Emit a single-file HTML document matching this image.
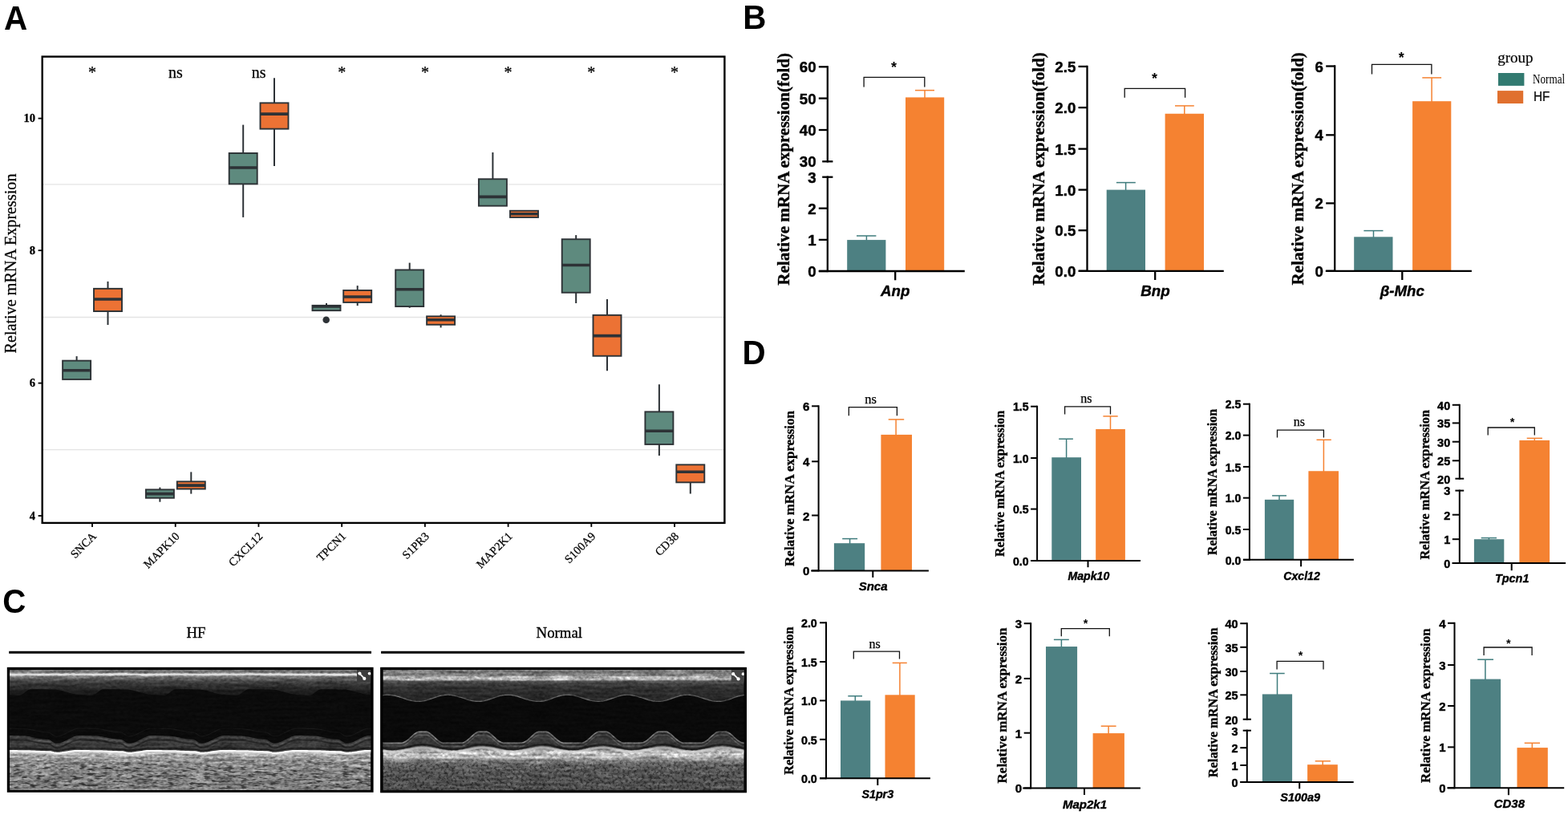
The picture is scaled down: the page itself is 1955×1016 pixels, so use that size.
<!DOCTYPE html>
<html lang="en">
<head>
<meta charset="utf-8">
<title>Figure: mRNA expression validation</title>
<style>
html,body{margin:0;padding:0;background:#fff;}
body{width:1955px;height:1016px;overflow:hidden;}
svg{display:block;}
text{white-space:pre;}
</style>
</head>
<body>
<svg width="1955" height="1016" viewBox="0 0 1955 1016">
<rect width="1955" height="1016" fill="#fff"/>
<g id="panelA">
<text font-family='"Liberation Sans", sans-serif' font-size="42.6" font-weight="bold" transform="translate(5 36.9) scale(0.95 1)">A</text>
<line x1="52.7" y1="229.9" x2="903.4" y2="229.9" stroke="#e4e4e4" stroke-width="1.4"/>
<line x1="52.7" y1="395.5" x2="903.4" y2="395.5" stroke="#e4e4e4" stroke-width="1.4"/>
<line x1="52.7" y1="560.6" x2="903.4" y2="560.6" stroke="#e4e4e4" stroke-width="1.4"/>
<line x1="47.6" y1="147.6" x2="52.7" y2="147.6" stroke="#000" stroke-width="1.8"/>
<text font-family='"Liberation Serif", serif' font-size="14.6" font-weight="bold" text-anchor="end" stroke="#000" stroke-width="0.3" x="44" y="152.4">10</text>
<line x1="47.6" y1="312.2" x2="52.7" y2="312.2" stroke="#000" stroke-width="1.8"/>
<text font-family='"Liberation Serif", serif' font-size="14.6" font-weight="bold" text-anchor="end" stroke="#000" stroke-width="0.3" x="44" y="317">8</text>
<line x1="47.6" y1="477.6" x2="52.7" y2="477.6" stroke="#000" stroke-width="1.8"/>
<text font-family='"Liberation Serif", serif' font-size="14.6" font-weight="bold" text-anchor="end" stroke="#000" stroke-width="0.3" x="44" y="482.4">6</text>
<line x1="47.6" y1="643" x2="52.7" y2="643" stroke="#000" stroke-width="1.8"/>
<text font-family='"Liberation Serif", serif' font-size="14.6" font-weight="bold" text-anchor="end" stroke="#000" stroke-width="0.3" x="44" y="647.8">4</text>
<text font-family='"Liberation Serif", serif' font-size="20.2" text-anchor="middle" textLength="224" lengthAdjust="spacingAndGlyphs" stroke="#000" stroke-width="0.25" transform="translate(20.3 328.5) rotate(-90)">Relative mRNA Expression</text>
<line x1="95.6" y1="444.1" x2="95.6" y2="449.7" stroke="#2d3236" stroke-width="2"/>
<rect x="78.1" y="449.65" width="35" height="23.3" fill="#5e8a7e" stroke="#2d3236" stroke-width="1.9"/>
<line x1="78.1" y1="461.7" x2="113.1" y2="461.7" stroke="#2d3236" stroke-width="3.6"/>
<line x1="134.5" y1="350.9" x2="134.5" y2="359.9" stroke="#2d3236" stroke-width="2"/>
<line x1="134.5" y1="388" x2="134.5" y2="405" stroke="#2d3236" stroke-width="2"/>
<rect x="117" y="359.85" width="35" height="28.2" fill="#ec7234" stroke="#2d3236" stroke-width="1.9"/>
<line x1="117" y1="373" x2="152" y2="373" stroke="#2d3236" stroke-width="3.6"/>
<line x1="199.4" y1="607.6" x2="199.4" y2="610.4" stroke="#2d3236" stroke-width="2"/>
<line x1="199.4" y1="620.7" x2="199.4" y2="625.7" stroke="#2d3236" stroke-width="2"/>
<rect x="181.9" y="610.35" width="35" height="10.4" fill="#5e8a7e" stroke="#2d3236" stroke-width="1.9"/>
<line x1="181.9" y1="615.6" x2="216.9" y2="615.6" stroke="#2d3236" stroke-width="3.6"/>
<line x1="238.3" y1="588.4" x2="238.3" y2="600.4" stroke="#2d3236" stroke-width="2"/>
<line x1="238.3" y1="609.5" x2="238.3" y2="615.6" stroke="#2d3236" stroke-width="2"/>
<rect x="220.8" y="600.35" width="35" height="9.2" fill="#ec7234" stroke="#2d3236" stroke-width="1.9"/>
<line x1="220.8" y1="605.1" x2="255.8" y2="605.1" stroke="#2d3236" stroke-width="3.6"/>
<line x1="303.2" y1="155.6" x2="303.2" y2="191" stroke="#2d3236" stroke-width="2"/>
<line x1="303.2" y1="229.3" x2="303.2" y2="270.9" stroke="#2d3236" stroke-width="2"/>
<rect x="285.7" y="190.95" width="35" height="38.4" fill="#5e8a7e" stroke="#2d3236" stroke-width="1.9"/>
<line x1="285.7" y1="209" x2="320.7" y2="209" stroke="#2d3236" stroke-width="3.6"/>
<line x1="342" y1="97.2" x2="342" y2="128.4" stroke="#2d3236" stroke-width="2"/>
<line x1="342" y1="160.6" x2="342" y2="206.9" stroke="#2d3236" stroke-width="2"/>
<rect x="324.5" y="128.35" width="35" height="32.3" fill="#ec7234" stroke="#2d3236" stroke-width="1.9"/>
<line x1="324.5" y1="142.1" x2="359.5" y2="142.1" stroke="#2d3236" stroke-width="3.6"/>
<line x1="407" y1="378" x2="407" y2="380.9" stroke="#2d3236" stroke-width="2"/>
<rect x="389.5" y="380.85" width="35" height="6.3" fill="#5e8a7e" stroke="#2d3236" stroke-width="1.9"/>
<line x1="389.5" y1="382" x2="424.5" y2="382" stroke="#2d3236" stroke-width="3.6"/>
<line x1="445.7" y1="356.1" x2="445.7" y2="362" stroke="#2d3236" stroke-width="2"/>
<line x1="445.7" y1="376.9" x2="445.7" y2="381.1" stroke="#2d3236" stroke-width="2"/>
<rect x="428.2" y="361.95" width="35" height="15" fill="#ec7234" stroke="#2d3236" stroke-width="1.9"/>
<line x1="428.2" y1="370" x2="463.2" y2="370" stroke="#2d3236" stroke-width="3.6"/>
<line x1="510.7" y1="327.6" x2="510.7" y2="336.5" stroke="#2d3236" stroke-width="2"/>
<line x1="510.7" y1="382" x2="510.7" y2="383.8" stroke="#2d3236" stroke-width="2"/>
<rect x="493.2" y="336.45" width="35" height="45.6" fill="#5e8a7e" stroke="#2d3236" stroke-width="1.9"/>
<line x1="493.2" y1="360.8" x2="528.2" y2="360.8" stroke="#2d3236" stroke-width="3.6"/>
<line x1="549.6" y1="392.2" x2="549.6" y2="394.4" stroke="#2d3236" stroke-width="2"/>
<line x1="549.6" y1="404.7" x2="549.6" y2="408.4" stroke="#2d3236" stroke-width="2"/>
<rect x="532.1" y="394.35" width="35" height="10.4" fill="#ec7234" stroke="#2d3236" stroke-width="1.9"/>
<line x1="532.1" y1="398.8" x2="567.1" y2="398.8" stroke="#2d3236" stroke-width="3.6"/>
<line x1="614.4" y1="190" x2="614.4" y2="223.3" stroke="#2d3236" stroke-width="2"/>
<rect x="596.9" y="223.25" width="35" height="33.4" fill="#5e8a7e" stroke="#2d3236" stroke-width="1.9"/>
<line x1="596.9" y1="245.4" x2="631.9" y2="245.4" stroke="#2d3236" stroke-width="3.6"/>
<rect x="636" y="262.75" width="35" height="8.2" fill="#ec7234" stroke="#2d3236" stroke-width="1.9"/>
<line x1="636" y1="266.8" x2="671" y2="266.8" stroke="#2d3236" stroke-width="3.6"/>
<line x1="718.2" y1="293.1" x2="718.2" y2="298.3" stroke="#2d3236" stroke-width="2"/>
<line x1="718.2" y1="364.7" x2="718.2" y2="378" stroke="#2d3236" stroke-width="2"/>
<rect x="700.7" y="298.25" width="35" height="66.5" fill="#5e8a7e" stroke="#2d3236" stroke-width="1.9"/>
<line x1="700.7" y1="330.5" x2="735.7" y2="330.5" stroke="#2d3236" stroke-width="3.6"/>
<line x1="757" y1="373.1" x2="757" y2="392.9" stroke="#2d3236" stroke-width="2"/>
<line x1="757" y1="443.7" x2="757" y2="462.3" stroke="#2d3236" stroke-width="2"/>
<rect x="739.5" y="392.85" width="35" height="50.9" fill="#ec7234" stroke="#2d3236" stroke-width="1.9"/>
<line x1="739.5" y1="418.6" x2="774.5" y2="418.6" stroke="#2d3236" stroke-width="3.6"/>
<line x1="821.9" y1="479.2" x2="821.9" y2="513.4" stroke="#2d3236" stroke-width="2"/>
<line x1="821.9" y1="553.9" x2="821.9" y2="568" stroke="#2d3236" stroke-width="2"/>
<rect x="804.4" y="513.35" width="35" height="40.6" fill="#5e8a7e" stroke="#2d3236" stroke-width="1.9"/>
<line x1="804.4" y1="537.3" x2="839.4" y2="537.3" stroke="#2d3236" stroke-width="3.6"/>
<line x1="860.8" y1="601.3" x2="860.8" y2="615.5" stroke="#2d3236" stroke-width="2"/>
<rect x="843.3" y="579.35" width="35" height="22" fill="#ec7234" stroke="#2d3236" stroke-width="1.9"/>
<line x1="843.3" y1="588.2" x2="878.3" y2="588.2" stroke="#2d3236" stroke-width="3.6"/>
<circle cx="406.7" cy="398.8" r="4.3" fill="#2d3236"/>
<text font-family='"Liberation Serif", serif' font-size="20" text-anchor="middle" stroke="#000" stroke-width="0.25" x="115" y="96.6">*</text>
<text font-family='"Liberation Serif", serif' font-size="20" text-anchor="middle" stroke="#000" stroke-width="0.25" x="218.92" y="96.9">ns</text>
<text font-family='"Liberation Serif", serif' font-size="20" text-anchor="middle" stroke="#000" stroke-width="0.25" x="322.64" y="96.9">ns</text>
<text font-family='"Liberation Serif", serif' font-size="20" text-anchor="middle" stroke="#000" stroke-width="0.25" x="426.16" y="96.6">*</text>
<text font-family='"Liberation Serif", serif' font-size="20" text-anchor="middle" stroke="#000" stroke-width="0.25" x="529.88" y="96.6">*</text>
<text font-family='"Liberation Serif", serif' font-size="20" text-anchor="middle" stroke="#000" stroke-width="0.25" x="633.6" y="96.6">*</text>
<text font-family='"Liberation Serif", serif' font-size="20" text-anchor="middle" stroke="#000" stroke-width="0.25" x="737.32" y="96.6">*</text>
<text font-family='"Liberation Serif", serif' font-size="20" text-anchor="middle" stroke="#000" stroke-width="0.25" x="841.04" y="96.6">*</text>
<rect x="52.7" y="70.6" width="850.7" height="581.3" fill="none" stroke="#000" stroke-width="2.4"/>
<line x1="115" y1="651.9" x2="115" y2="656.9" stroke="#000" stroke-width="1.8"/>
<text font-family='"Liberation Serif", serif' font-size="14.5" text-anchor="end" stroke="#000" stroke-width="0.25" transform="translate(121 669.3) rotate(-45)">SNCA</text>
<line x1="218.72" y1="651.9" x2="218.72" y2="656.9" stroke="#000" stroke-width="1.8"/>
<text font-family='"Liberation Serif", serif' font-size="14.5" text-anchor="end" stroke="#000" stroke-width="0.25" transform="translate(224.72 669.3) rotate(-45)">MAPK10</text>
<line x1="322.44" y1="651.9" x2="322.44" y2="656.9" stroke="#000" stroke-width="1.8"/>
<text font-family='"Liberation Serif", serif' font-size="14.5" text-anchor="end" stroke="#000" stroke-width="0.25" transform="translate(328.44 669.3) rotate(-45)">CXCL12</text>
<line x1="426.16" y1="651.9" x2="426.16" y2="656.9" stroke="#000" stroke-width="1.8"/>
<text font-family='"Liberation Serif", serif' font-size="14.5" text-anchor="end" stroke="#000" stroke-width="0.25" transform="translate(432.16 669.3) rotate(-45)">TPCN1</text>
<line x1="529.88" y1="651.9" x2="529.88" y2="656.9" stroke="#000" stroke-width="1.8"/>
<text font-family='"Liberation Serif", serif' font-size="14.5" text-anchor="end" stroke="#000" stroke-width="0.25" transform="translate(535.88 669.3) rotate(-45)">S1PR3</text>
<line x1="633.6" y1="651.9" x2="633.6" y2="656.9" stroke="#000" stroke-width="1.8"/>
<text font-family='"Liberation Serif", serif' font-size="14.5" text-anchor="end" stroke="#000" stroke-width="0.25" transform="translate(639.6 669.3) rotate(-45)">MAP2K1</text>
<line x1="737.32" y1="651.9" x2="737.32" y2="656.9" stroke="#000" stroke-width="1.8"/>
<text font-family='"Liberation Serif", serif' font-size="14.5" text-anchor="end" stroke="#000" stroke-width="0.25" transform="translate(743.32 669.3) rotate(-45)">S100A9</text>
<line x1="841.04" y1="651.9" x2="841.04" y2="656.9" stroke="#000" stroke-width="1.8"/>
<text font-family='"Liberation Serif", serif' font-size="14.5" text-anchor="end" stroke="#000" stroke-width="0.25" transform="translate(847.04 669.3) rotate(-45)">CD38</text>
</g>
<text font-family='"Liberation Sans", sans-serif' font-size="42" font-weight="bold" transform="translate(926.2 36.4) scale(0.96 1)">B</text>
<text font-family='"Liberation Sans", sans-serif' font-size="42" font-weight="bold" transform="translate(925.6 453.7) scale(0.96 1)">D</text>
<g id="chart-Anp">
<line x1="1080.4" y1="294" x2="1080.4" y2="300.1" stroke="#3f7c7d" stroke-width="1.5"/>
<line x1="1068" y1="294" x2="1092.4" y2="294" stroke="#3f7c7d" stroke-width="1.5"/>
<line x1="1153" y1="112.6" x2="1153" y2="122.4" stroke="#f58231" stroke-width="1.5"/>
<line x1="1141" y1="112.6" x2="1165" y2="112.6" stroke="#f58231" stroke-width="1.5"/>
<rect x="1056.2" y="299.1" width="48.2" height="38.9" fill="#4d8082"/>
<rect x="1129" y="121.4" width="48.2" height="216.6" fill="#f58231"/>
<line x1="1031.8" y1="82.15" x2="1031.8" y2="202.45" stroke="#000" stroke-width="2.3"/>
<line x1="1031.8" y1="219.55" x2="1031.8" y2="339.15" stroke="#000" stroke-width="2.3"/>
<line x1="1020.8" y1="83.3" x2="1031.8" y2="83.3" stroke="#000" stroke-width="2.3"/>
<text font-family='"Liberation Sans", sans-serif' font-size="18.68" font-weight="bold" text-anchor="end" stroke="#000" stroke-width="0.45" x="1017.6" y="90.34">60</text>
<line x1="1020.8" y1="122.6" x2="1031.8" y2="122.6" stroke="#000" stroke-width="2.3"/>
<text font-family='"Liberation Sans", sans-serif' font-size="18.68" font-weight="bold" text-anchor="end" stroke="#000" stroke-width="0.45" x="1017.6" y="129.64">50</text>
<line x1="1020.8" y1="162" x2="1031.8" y2="162" stroke="#000" stroke-width="2.3"/>
<text font-family='"Liberation Sans", sans-serif' font-size="18.68" font-weight="bold" text-anchor="end" stroke="#000" stroke-width="0.45" x="1017.6" y="169.04">40</text>
<line x1="1025.2" y1="201.3" x2="1038.4" y2="201.3" stroke="#000" stroke-width="2.3"/>
<text font-family='"Liberation Sans", sans-serif' font-size="18.68" font-weight="bold" text-anchor="end" stroke="#000" stroke-width="0.45" x="1017.6" y="208.34">30</text>
<line x1="1025.2" y1="220.7" x2="1038.4" y2="220.7" stroke="#000" stroke-width="2.3"/>
<text font-family='"Liberation Sans", sans-serif' font-size="18.68" font-weight="bold" text-anchor="end" stroke="#000" stroke-width="0.45" x="1017.6" y="227.74">3</text>
<line x1="1020.8" y1="259.7" x2="1031.8" y2="259.7" stroke="#000" stroke-width="2.3"/>
<text font-family='"Liberation Sans", sans-serif' font-size="18.68" font-weight="bold" text-anchor="end" stroke="#000" stroke-width="0.45" x="1017.6" y="266.74">2</text>
<line x1="1020.8" y1="298.9" x2="1031.8" y2="298.9" stroke="#000" stroke-width="2.3"/>
<text font-family='"Liberation Sans", sans-serif' font-size="18.68" font-weight="bold" text-anchor="end" stroke="#000" stroke-width="0.45" x="1017.6" y="305.94">1</text>
<line x1="1020.8" y1="338" x2="1031.8" y2="338" stroke="#000" stroke-width="2.3"/>
<text font-family='"Liberation Sans", sans-serif' font-size="18.68" font-weight="bold" text-anchor="end" stroke="#000" stroke-width="0.45" x="1017.6" y="345.04">0</text>
<line x1="1020.8" y1="338" x2="1202.8" y2="338" stroke="#000" stroke-width="2.3"/>
<line x1="1116.2" y1="338" x2="1116.2" y2="349.3" stroke="#000" stroke-width="2.3"/>
<text font-family='"Liberation Sans", sans-serif' font-size="18.68" font-weight="bold" font-style="italic" text-anchor="middle" stroke="#000" stroke-width="0.4" x="1116.2" y="369.3">Anp</text>
<path d="M1077.1 108.6V96.4H1152.8V108.6" fill="none" stroke="#111" stroke-width="1.3"/>
<text font-family='"Liberation Sans", sans-serif' font-size="18" font-weight="bold" text-anchor="middle" x="1114.4" y="90.4">*</text>
<text font-family='"Liberation Serif", serif' font-size="20.98" font-weight="bold" text-anchor="middle" textLength="289.7" lengthAdjust="spacingAndGlyphs" stroke="#000" stroke-width="0.35" transform="translate(983.7 210.85) rotate(-90)">Relative mRNA expression(fold)</text>
</g>
<g id="chart-Bnp">
<line x1="1403.6" y1="227.6" x2="1403.6" y2="237.6" stroke="#3f7c7d" stroke-width="1.5"/>
<line x1="1391.9" y1="227.6" x2="1415.8" y2="227.6" stroke="#3f7c7d" stroke-width="1.5"/>
<line x1="1476.8" y1="131.9" x2="1476.8" y2="142.75" stroke="#f58231" stroke-width="1.5"/>
<line x1="1465" y1="131.9" x2="1488.8" y2="131.9" stroke="#f58231" stroke-width="1.5"/>
<rect x="1379.7" y="236.6" width="48.3" height="101.2" fill="#4d8082"/>
<rect x="1452.6" y="141.75" width="48.4" height="196.05" fill="#f58231"/>
<line x1="1355.5" y1="81.75" x2="1355.5" y2="338.95" stroke="#000" stroke-width="2.3"/>
<line x1="1344.5" y1="82.9" x2="1355.5" y2="82.9" stroke="#000" stroke-width="2.3"/>
<text font-family='"Liberation Sans", sans-serif' font-size="18.74" font-weight="bold" text-anchor="end" stroke="#000" stroke-width="0.45" x="1341.4" y="89.96">2.5</text>
<line x1="1344.5" y1="134.1" x2="1355.5" y2="134.1" stroke="#000" stroke-width="2.3"/>
<text font-family='"Liberation Sans", sans-serif' font-size="18.74" font-weight="bold" text-anchor="end" stroke="#000" stroke-width="0.45" x="1341.4" y="141.16">2.0</text>
<line x1="1344.5" y1="185.6" x2="1355.5" y2="185.6" stroke="#000" stroke-width="2.3"/>
<text font-family='"Liberation Sans", sans-serif' font-size="18.74" font-weight="bold" text-anchor="end" stroke="#000" stroke-width="0.45" x="1341.4" y="192.66">1.5</text>
<line x1="1344.5" y1="236.6" x2="1355.5" y2="236.6" stroke="#000" stroke-width="2.3"/>
<text font-family='"Liberation Sans", sans-serif' font-size="18.74" font-weight="bold" text-anchor="end" stroke="#000" stroke-width="0.45" x="1341.4" y="243.66">1.0</text>
<line x1="1344.5" y1="287.2" x2="1355.5" y2="287.2" stroke="#000" stroke-width="2.3"/>
<text font-family='"Liberation Sans", sans-serif' font-size="18.74" font-weight="bold" text-anchor="end" stroke="#000" stroke-width="0.45" x="1341.4" y="294.26">0.5</text>
<line x1="1344.5" y1="337.8" x2="1355.5" y2="337.8" stroke="#000" stroke-width="2.3"/>
<text font-family='"Liberation Sans", sans-serif' font-size="18.74" font-weight="bold" text-anchor="end" stroke="#000" stroke-width="0.45" x="1341.4" y="344.86">0.0</text>
<line x1="1344.9" y1="337.8" x2="1525.8" y2="337.8" stroke="#000" stroke-width="2.3"/>
<line x1="1440.2" y1="337.8" x2="1440.2" y2="349" stroke="#000" stroke-width="2.3"/>
<text font-family='"Liberation Sans", sans-serif' font-size="18.74" font-weight="bold" font-style="italic" text-anchor="middle" stroke="#000" stroke-width="0.4" x="1440.4" y="369.1">Bnp</text>
<path d="M1402.2 121.7V110.3H1477.6V121.7" fill="none" stroke="#111" stroke-width="1.3"/>
<text font-family='"Liberation Sans", sans-serif' font-size="18" font-weight="bold" text-anchor="middle" x="1439.6" y="104.3">*</text>
<text font-family='"Liberation Serif", serif' font-size="21.06" font-weight="bold" text-anchor="middle" textLength="290.7" lengthAdjust="spacingAndGlyphs" stroke="#000" stroke-width="0.35" transform="translate(1301.8 210.45) rotate(-90)">Relative mRNA expression(fold)</text>
</g>
<g id="chart-bMhc">
<line x1="1712.5" y1="287.6" x2="1712.5" y2="296.3" stroke="#3f7c7d" stroke-width="1.5"/>
<line x1="1700.4" y1="287.6" x2="1724.5" y2="287.6" stroke="#3f7c7d" stroke-width="1.5"/>
<line x1="1785.1" y1="96.9" x2="1785.1" y2="127.2" stroke="#f58231" stroke-width="1.5"/>
<line x1="1773.3" y1="96.9" x2="1797.1" y2="96.9" stroke="#f58231" stroke-width="1.5"/>
<rect x="1688.2" y="295.3" width="48.3" height="42.5" fill="#4d8082"/>
<rect x="1761.1" y="126.2" width="48.2" height="211.6" fill="#f58231"/>
<line x1="1664.2" y1="81.35" x2="1664.2" y2="338.95" stroke="#000" stroke-width="2.3"/>
<line x1="1653.2" y1="82.5" x2="1664.2" y2="82.5" stroke="#000" stroke-width="2.3"/>
<text font-family='"Liberation Sans", sans-serif' font-size="18.71" font-weight="bold" text-anchor="end" stroke="#000" stroke-width="0.45" x="1649.9" y="89.55">6</text>
<line x1="1653.2" y1="168.3" x2="1664.2" y2="168.3" stroke="#000" stroke-width="2.3"/>
<text font-family='"Liberation Sans", sans-serif' font-size="18.71" font-weight="bold" text-anchor="end" stroke="#000" stroke-width="0.45" x="1649.9" y="175.35">4</text>
<line x1="1653.2" y1="253.4" x2="1664.2" y2="253.4" stroke="#000" stroke-width="2.3"/>
<text font-family='"Liberation Sans", sans-serif' font-size="18.71" font-weight="bold" text-anchor="end" stroke="#000" stroke-width="0.45" x="1649.9" y="260.45">2</text>
<line x1="1653.2" y1="337.8" x2="1664.2" y2="337.8" stroke="#000" stroke-width="2.3"/>
<text font-family='"Liberation Sans", sans-serif' font-size="18.71" font-weight="bold" text-anchor="end" stroke="#000" stroke-width="0.45" x="1649.9" y="344.85">0</text>
<line x1="1652.8" y1="337.8" x2="1834.9" y2="337.8" stroke="#000" stroke-width="2.3"/>
<line x1="1748.3" y1="337.8" x2="1748.3" y2="349" stroke="#000" stroke-width="2.3"/>
<text font-family='"Liberation Sans", sans-serif' font-size="18.71" font-weight="bold" font-style="italic" text-anchor="middle" stroke="#000" stroke-width="0.4" x="1748.3" y="369.1">β-Mhc</text>
<path d="M1710.5 92.5V80.3H1784.9V92.5" fill="none" stroke="#111" stroke-width="1.3"/>
<text font-family='"Liberation Sans", sans-serif' font-size="18" font-weight="bold" text-anchor="middle" x="1747.3" y="77.7">*</text>
<text font-family='"Liberation Serif", serif' font-size="21.03" font-weight="bold" text-anchor="middle" textLength="290.3" lengthAdjust="spacingAndGlyphs" stroke="#000" stroke-width="0.35" transform="translate(1624.9 210.25) rotate(-90)">Relative mRNA expression(fold)</text>
</g>
<g id="chart-Snca">
<line x1="1059.6" y1="671.6" x2="1059.6" y2="678.2" stroke="#3f7c7d" stroke-width="1.5"/>
<line x1="1050.2" y1="671.6" x2="1069.1" y2="671.6" stroke="#3f7c7d" stroke-width="1.5"/>
<line x1="1117.1" y1="522.9" x2="1117.1" y2="542.9" stroke="#f58231" stroke-width="1.5"/>
<line x1="1107.7" y1="522.9" x2="1127.2" y2="522.9" stroke="#f58231" stroke-width="1.5"/>
<rect x="1039.9" y="677.2" width="38.3" height="34.2" fill="#4d8082"/>
<rect x="1098.4" y="541.9" width="38.6" height="169.5" fill="#f58231"/>
<line x1="1020.6" y1="505.3" x2="1020.6" y2="712.4" stroke="#000" stroke-width="2"/>
<line x1="1012.1" y1="506.3" x2="1020.6" y2="506.3" stroke="#000" stroke-width="2"/>
<text font-family='"Liberation Sans", sans-serif' font-size="15.03" font-weight="bold" text-anchor="end" stroke="#000" stroke-width="0.45" x="1009.4" y="512.36">6</text>
<line x1="1012.1" y1="575.3" x2="1020.6" y2="575.3" stroke="#000" stroke-width="2"/>
<text font-family='"Liberation Sans", sans-serif' font-size="15.03" font-weight="bold" text-anchor="end" stroke="#000" stroke-width="0.45" x="1009.4" y="581.36">4</text>
<line x1="1012.1" y1="642.5" x2="1020.6" y2="642.5" stroke="#000" stroke-width="2"/>
<text font-family='"Liberation Sans", sans-serif' font-size="15.03" font-weight="bold" text-anchor="end" stroke="#000" stroke-width="0.45" x="1009.4" y="648.56">2</text>
<line x1="1012.1" y1="711.4" x2="1020.6" y2="711.4" stroke="#000" stroke-width="2"/>
<text font-family='"Liberation Sans", sans-serif' font-size="15.03" font-weight="bold" text-anchor="end" stroke="#000" stroke-width="0.45" x="1009.4" y="717.46">0</text>
<line x1="1011.2" y1="711.4" x2="1157.9" y2="711.4" stroke="#000" stroke-width="2"/>
<line x1="1088.3" y1="711.4" x2="1088.3" y2="719.9" stroke="#000" stroke-width="2"/>
<text font-family='"Liberation Sans", sans-serif' font-size="15.03" font-weight="bold" font-style="italic" text-anchor="middle" stroke="#000" stroke-width="0.4" x="1088.6" y="736.2">Snca</text>
<path d="M1058.3 518.3V507.7H1118.4V518.3" fill="none" stroke="#111" stroke-width="1.3"/>
<text font-family='"Liberation Serif", serif' font-size="16.5" text-anchor="middle" stroke="#000" stroke-width="0.25" x="1085.6" y="502.9">ns</text>
<text font-family='"Liberation Serif", serif' font-size="16.88" font-weight="bold" text-anchor="middle" textLength="193.9" lengthAdjust="spacingAndGlyphs" stroke="#000" stroke-width="0.35" transform="translate(990 608.95) rotate(-90)">Relative mRNA expression</text>
</g>
<g id="chart-Mapk10">
<line x1="1329.6" y1="547.2" x2="1329.6" y2="571.2" stroke="#3f7c7d" stroke-width="1.5"/>
<line x1="1320.2" y1="547.2" x2="1337.9" y2="547.2" stroke="#3f7c7d" stroke-width="1.5"/>
<line x1="1384.5" y1="518.9" x2="1384.5" y2="536" stroke="#f58231" stroke-width="1.5"/>
<line x1="1375.4" y1="518.9" x2="1393.7" y2="518.9" stroke="#f58231" stroke-width="1.5"/>
<rect x="1311.3" y="570.2" width="36.7" height="128.9" fill="#4d8082"/>
<rect x="1366.2" y="535" width="36.7" height="164.1" fill="#f58231"/>
<line x1="1293.1" y1="505.7" x2="1293.1" y2="700" stroke="#000" stroke-width="2"/>
<line x1="1285.1" y1="506.7" x2="1293.1" y2="506.7" stroke="#000" stroke-width="2"/>
<text font-family='"Liberation Sans", sans-serif' font-size="14.09" font-weight="bold" text-anchor="end" stroke="#000" stroke-width="0.45" x="1282.5" y="512.43">1.5</text>
<line x1="1285.1" y1="571" x2="1293.1" y2="571" stroke="#000" stroke-width="2"/>
<text font-family='"Liberation Sans", sans-serif' font-size="14.09" font-weight="bold" text-anchor="end" stroke="#000" stroke-width="0.45" x="1282.5" y="576.73">1.0</text>
<line x1="1285.1" y1="634.6" x2="1293.1" y2="634.6" stroke="#000" stroke-width="2"/>
<text font-family='"Liberation Sans", sans-serif' font-size="14.09" font-weight="bold" text-anchor="end" stroke="#000" stroke-width="0.45" x="1282.5" y="640.33">0.5</text>
<line x1="1285.1" y1="699" x2="1293.1" y2="699" stroke="#000" stroke-width="2"/>
<text font-family='"Liberation Sans", sans-serif' font-size="14.09" font-weight="bold" text-anchor="end" stroke="#000" stroke-width="0.45" x="1282.5" y="704.73">0.0</text>
<line x1="1285.3" y1="699.1" x2="1422" y2="699.1" stroke="#000" stroke-width="2"/>
<line x1="1356.5" y1="699.1" x2="1356.5" y2="707.2" stroke="#000" stroke-width="2"/>
<text font-family='"Liberation Sans", sans-serif' font-size="14.09" font-weight="bold" font-style="italic" text-anchor="middle" stroke="#000" stroke-width="0.4" x="1357.4" y="722.6">Mapk10</text>
<path d="M1327.6 516.4V506.8H1384.5V516.4" fill="none" stroke="#111" stroke-width="1.3"/>
<text font-family='"Liberation Serif", serif' font-size="16" text-anchor="middle" stroke="#000" stroke-width="0.25" x="1354.4" y="501.9">ns</text>
<text font-family='"Liberation Serif", serif' font-size="15.83" font-weight="bold" text-anchor="middle" textLength="181.9" lengthAdjust="spacingAndGlyphs" stroke="#000" stroke-width="0.35" transform="translate(1252.1 602.95) rotate(-90)">Relative mRNA expression</text>
</g>
<g id="chart-Cxcl12">
<line x1="1595" y1="617.9" x2="1595" y2="623.85" stroke="#3f7c7d" stroke-width="1.5"/>
<line x1="1586.1" y1="617.9" x2="1604" y2="617.9" stroke="#3f7c7d" stroke-width="1.5"/>
<line x1="1650.4" y1="548.3" x2="1650.4" y2="588.25" stroke="#f58231" stroke-width="1.5"/>
<line x1="1641.5" y1="548.3" x2="1659.8" y2="548.3" stroke="#f58231" stroke-width="1.5"/>
<rect x="1576.9" y="622.85" width="36.3" height="74.95" fill="#4d8082"/>
<rect x="1631.4" y="587.25" width="37.6" height="110.55" fill="#f58231"/>
<line x1="1557.9" y1="502.7" x2="1557.9" y2="698.8" stroke="#000" stroke-width="2"/>
<line x1="1549.9" y1="503.7" x2="1557.9" y2="503.7" stroke="#000" stroke-width="2"/>
<text font-family='"Liberation Sans", sans-serif' font-size="14.12" font-weight="bold" text-anchor="end" stroke="#000" stroke-width="0.45" x="1547.3" y="509.44">2.5</text>
<line x1="1549.9" y1="542.6" x2="1557.9" y2="542.6" stroke="#000" stroke-width="2"/>
<text font-family='"Liberation Sans", sans-serif' font-size="14.12" font-weight="bold" text-anchor="end" stroke="#000" stroke-width="0.45" x="1547.3" y="548.34">2.0</text>
<line x1="1549.9" y1="581.9" x2="1557.9" y2="581.9" stroke="#000" stroke-width="2"/>
<text font-family='"Liberation Sans", sans-serif' font-size="14.12" font-weight="bold" text-anchor="end" stroke="#000" stroke-width="0.45" x="1547.3" y="587.64">1.5</text>
<line x1="1549.9" y1="620.7" x2="1557.9" y2="620.7" stroke="#000" stroke-width="2"/>
<text font-family='"Liberation Sans", sans-serif' font-size="14.12" font-weight="bold" text-anchor="end" stroke="#000" stroke-width="0.45" x="1547.3" y="626.44">1.0</text>
<line x1="1549.9" y1="660" x2="1557.9" y2="660" stroke="#000" stroke-width="2"/>
<text font-family='"Liberation Sans", sans-serif' font-size="14.12" font-weight="bold" text-anchor="end" stroke="#000" stroke-width="0.45" x="1547.3" y="665.74">0.5</text>
<line x1="1549.9" y1="697.8" x2="1557.9" y2="697.8" stroke="#000" stroke-width="2"/>
<text font-family='"Liberation Sans", sans-serif' font-size="14.12" font-weight="bold" text-anchor="end" stroke="#000" stroke-width="0.45" x="1547.3" y="703.54">0.0</text>
<line x1="1550" y1="697.8" x2="1687.9" y2="697.8" stroke="#000" stroke-width="2"/>
<line x1="1622.1" y1="697.8" x2="1622.1" y2="706.3" stroke="#000" stroke-width="2"/>
<text font-family='"Liberation Sans", sans-serif' font-size="14.12" font-weight="bold" font-style="italic" text-anchor="middle" stroke="#000" stroke-width="0.4" x="1623" y="722.6">Cxcl12</text>
<path d="M1592.5 545.6V536.2H1650.4V545.6" fill="none" stroke="#111" stroke-width="1.3"/>
<text font-family='"Liberation Serif", serif' font-size="16" text-anchor="middle" stroke="#000" stroke-width="0.25" x="1619.8" y="531.1">ns</text>
<text font-family='"Liberation Serif", serif' font-size="15.86" font-weight="bold" text-anchor="middle" textLength="182.2" lengthAdjust="spacingAndGlyphs" stroke="#000" stroke-width="0.35" transform="translate(1516.8 601) rotate(-90)">Relative mRNA expression</text>
</g>
<g id="chart-Tpcn1">
<line x1="1856.4" y1="670.6" x2="1856.4" y2="673.2" stroke="#3f7c7d" stroke-width="1.5"/>
<line x1="1846.7" y1="670.6" x2="1866" y2="670.6" stroke="#3f7c7d" stroke-width="1.5"/>
<line x1="1913.3" y1="546.35" x2="1913.3" y2="549.9" stroke="#f58231" stroke-width="1.5"/>
<line x1="1903.7" y1="546.35" x2="1922.9" y2="546.35" stroke="#f58231" stroke-width="1.5"/>
<rect x="1837.9" y="672.2" width="37.4" height="29.8" fill="#4d8082"/>
<rect x="1894.4" y="548.9" width="37.7" height="153.1" fill="#f58231"/>
<line x1="1819.8" y1="503.8" x2="1819.8" y2="597.7" stroke="#000" stroke-width="2"/>
<line x1="1819.8" y1="610.6" x2="1819.8" y2="703" stroke="#000" stroke-width="2"/>
<line x1="1810.8" y1="504.8" x2="1819.8" y2="504.8" stroke="#000" stroke-width="2"/>
<text font-family='"Liberation Sans", sans-serif' font-size="14.46" font-weight="bold" text-anchor="end" stroke="#000" stroke-width="0.45" x="1808.2" y="510.66">40</text>
<line x1="1810.8" y1="527.4" x2="1819.8" y2="527.4" stroke="#000" stroke-width="2"/>
<text font-family='"Liberation Sans", sans-serif' font-size="14.46" font-weight="bold" text-anchor="end" stroke="#000" stroke-width="0.45" x="1808.2" y="533.26">35</text>
<line x1="1810.8" y1="550.7" x2="1819.8" y2="550.7" stroke="#000" stroke-width="2"/>
<text font-family='"Liberation Sans", sans-serif' font-size="14.46" font-weight="bold" text-anchor="end" stroke="#000" stroke-width="0.45" x="1808.2" y="556.56">30</text>
<line x1="1810.8" y1="574.3" x2="1819.8" y2="574.3" stroke="#000" stroke-width="2"/>
<text font-family='"Liberation Sans", sans-serif' font-size="14.46" font-weight="bold" text-anchor="end" stroke="#000" stroke-width="0.45" x="1808.2" y="580.16">25</text>
<line x1="1814.4" y1="596.7" x2="1825.2" y2="596.7" stroke="#000" stroke-width="2"/>
<text font-family='"Liberation Sans", sans-serif' font-size="14.46" font-weight="bold" text-anchor="end" stroke="#000" stroke-width="0.45" x="1808.2" y="602.56">20</text>
<line x1="1814.4" y1="611.6" x2="1825.2" y2="611.6" stroke="#000" stroke-width="2"/>
<text font-family='"Liberation Sans", sans-serif' font-size="14.46" font-weight="bold" text-anchor="end" stroke="#000" stroke-width="0.45" x="1808.2" y="617.46">3</text>
<line x1="1810.8" y1="641.7" x2="1819.8" y2="641.7" stroke="#000" stroke-width="2"/>
<text font-family='"Liberation Sans", sans-serif' font-size="14.46" font-weight="bold" text-anchor="end" stroke="#000" stroke-width="0.45" x="1808.2" y="647.56">2</text>
<line x1="1810.8" y1="672.2" x2="1819.8" y2="672.2" stroke="#000" stroke-width="2"/>
<text font-family='"Liberation Sans", sans-serif' font-size="14.46" font-weight="bold" text-anchor="end" stroke="#000" stroke-width="0.45" x="1808.2" y="678.06">1</text>
<line x1="1810.8" y1="702" x2="1819.8" y2="702" stroke="#000" stroke-width="2"/>
<text font-family='"Liberation Sans", sans-serif' font-size="14.46" font-weight="bold" text-anchor="end" stroke="#000" stroke-width="0.45" x="1808.2" y="707.86">0</text>
<line x1="1810.6" y1="702" x2="1952.1" y2="702" stroke="#000" stroke-width="2"/>
<line x1="1884.7" y1="702" x2="1884.7" y2="711.2" stroke="#000" stroke-width="2"/>
<text font-family='"Liberation Sans", sans-serif' font-size="14.46" font-weight="bold" font-style="italic" text-anchor="middle" stroke="#000" stroke-width="0.4" x="1885.2" y="726.4">Tpcn1</text>
<path d="M1855.2 542.5V533H1913.3V542.5" fill="none" stroke="#111" stroke-width="1.3"/>
<text font-family='"Liberation Sans", sans-serif' font-size="14.5" font-weight="bold" text-anchor="middle" x="1885.5" y="531.1">*</text>
<text font-family='"Liberation Serif", serif' font-size="16.25" font-weight="bold" text-anchor="middle" textLength="186.6" lengthAdjust="spacingAndGlyphs" stroke="#000" stroke-width="0.35" transform="translate(1781.8 604.2) rotate(-90)">Relative mRNA expression</text>
</g>
<g id="chart-S1pr3">
<line x1="1066.3" y1="867.7" x2="1066.3" y2="874.4" stroke="#3f7c7d" stroke-width="1.5"/>
<line x1="1057.3" y1="867.7" x2="1075" y2="867.7" stroke="#3f7c7d" stroke-width="1.5"/>
<line x1="1121.9" y1="826.4" x2="1121.9" y2="867.3" stroke="#f58231" stroke-width="1.5"/>
<line x1="1112.7" y1="826.4" x2="1130.8" y2="826.4" stroke="#f58231" stroke-width="1.5"/>
<rect x="1048" y="873.4" width="37.2" height="96.9" fill="#4d8082"/>
<rect x="1103.5" y="866.3" width="37.2" height="104" fill="#f58231"/>
<line x1="1030" y1="775.3" x2="1030" y2="971.3" stroke="#000" stroke-width="2"/>
<line x1="1022" y1="776.3" x2="1030" y2="776.3" stroke="#000" stroke-width="2"/>
<text font-family='"Liberation Sans", sans-serif' font-size="14.26" font-weight="bold" text-anchor="end" stroke="#000" stroke-width="0.45" x="1018.8" y="782.09">2.0</text>
<line x1="1022" y1="825" x2="1030" y2="825" stroke="#000" stroke-width="2"/>
<text font-family='"Liberation Sans", sans-serif' font-size="14.26" font-weight="bold" text-anchor="end" stroke="#000" stroke-width="0.45" x="1018.8" y="830.79">1.5</text>
<line x1="1022" y1="873.4" x2="1030" y2="873.4" stroke="#000" stroke-width="2"/>
<text font-family='"Liberation Sans", sans-serif' font-size="14.26" font-weight="bold" text-anchor="end" stroke="#000" stroke-width="0.45" x="1018.8" y="879.19">1.0</text>
<line x1="1022" y1="921.8" x2="1030" y2="921.8" stroke="#000" stroke-width="2"/>
<text font-family='"Liberation Sans", sans-serif' font-size="14.26" font-weight="bold" text-anchor="end" stroke="#000" stroke-width="0.45" x="1018.8" y="927.59">0.5</text>
<line x1="1022" y1="970.3" x2="1030" y2="970.3" stroke="#000" stroke-width="2"/>
<text font-family='"Liberation Sans", sans-serif' font-size="14.26" font-weight="bold" text-anchor="end" stroke="#000" stroke-width="0.45" x="1018.8" y="976.09">0.0</text>
<line x1="1022.2" y1="970.3" x2="1159.9" y2="970.3" stroke="#000" stroke-width="2"/>
<line x1="1094.3" y1="970.3" x2="1094.3" y2="979" stroke="#000" stroke-width="2"/>
<text font-family='"Liberation Sans", sans-serif' font-size="14.26" font-weight="bold" font-style="italic" text-anchor="middle" stroke="#000" stroke-width="0.4" x="1094.3" y="994.7">S1pr3</text>
<path d="M1064.3 821.5V812.1H1121.5V821.5" fill="none" stroke="#111" stroke-width="1.3"/>
<text font-family='"Liberation Serif", serif' font-size="16" text-anchor="middle" stroke="#000" stroke-width="0.25" x="1090.5" y="807.8">ns</text>
<text font-family='"Liberation Serif", serif' font-size="16.03" font-weight="bold" text-anchor="middle" textLength="184.1" lengthAdjust="spacingAndGlyphs" stroke="#000" stroke-width="0.35" transform="translate(988.6 873.65) rotate(-90)">Relative mRNA expression</text>
</g>
<g id="chart-Map2k1">
<line x1="1323.4" y1="797.4" x2="1323.4" y2="807.05" stroke="#3f7c7d" stroke-width="1.5"/>
<line x1="1313.9" y1="797.4" x2="1332.8" y2="797.4" stroke="#3f7c7d" stroke-width="1.5"/>
<line x1="1382.1" y1="905.2" x2="1382.1" y2="915.1" stroke="#f58231" stroke-width="1.5"/>
<line x1="1372.7" y1="905.2" x2="1391.6" y2="905.2" stroke="#f58231" stroke-width="1.5"/>
<rect x="1304" y="806.05" width="39.1" height="176.35" fill="#4d8082"/>
<rect x="1362.6" y="914.1" width="39.3" height="68.3" fill="#f58231"/>
<line x1="1285.2" y1="776.2" x2="1285.2" y2="983.4" stroke="#000" stroke-width="2"/>
<line x1="1276.7" y1="777.2" x2="1285.2" y2="777.2" stroke="#000" stroke-width="2"/>
<text font-family='"Liberation Sans", sans-serif' font-size="15.03" font-weight="bold" text-anchor="end" stroke="#000" stroke-width="0.45" x="1274" y="783.26">3</text>
<line x1="1276.7" y1="845.9" x2="1285.2" y2="845.9" stroke="#000" stroke-width="2"/>
<text font-family='"Liberation Sans", sans-serif' font-size="15.03" font-weight="bold" text-anchor="end" stroke="#000" stroke-width="0.45" x="1274" y="851.96">2</text>
<line x1="1276.7" y1="913.7" x2="1285.2" y2="913.7" stroke="#000" stroke-width="2"/>
<text font-family='"Liberation Sans", sans-serif' font-size="15.03" font-weight="bold" text-anchor="end" stroke="#000" stroke-width="0.45" x="1274" y="919.76">1</text>
<line x1="1276.7" y1="982.4" x2="1285.2" y2="982.4" stroke="#000" stroke-width="2"/>
<text font-family='"Liberation Sans", sans-serif' font-size="15.03" font-weight="bold" text-anchor="end" stroke="#000" stroke-width="0.45" x="1274" y="988.46">0</text>
<line x1="1275.2" y1="982.4" x2="1421.9" y2="982.4" stroke="#000" stroke-width="2"/>
<line x1="1352" y1="982.4" x2="1352" y2="991" stroke="#000" stroke-width="2"/>
<text font-family='"Liberation Sans", sans-serif' font-size="15.03" font-weight="bold" font-style="italic" text-anchor="middle" stroke="#000" stroke-width="0.4" x="1352.5" y="1007.7">Map2k1</text>
<path d="M1323.3 793.3V783.6H1383.3V793.3" fill="none" stroke="#111" stroke-width="1.3"/>
<text font-family='"Liberation Sans", sans-serif' font-size="14.5" font-weight="bold" text-anchor="middle" x="1353.7" y="781.9">*</text>
<text font-family='"Liberation Serif", serif' font-size="16.88" font-weight="bold" text-anchor="middle" textLength="193.9" lengthAdjust="spacingAndGlyphs" stroke="#000" stroke-width="0.35" transform="translate(1254.8 879.45) rotate(-90)">Relative mRNA expression</text>
</g>
<g id="chart-S100a9">
<line x1="1592.5" y1="839.5" x2="1592.5" y2="866.4" stroke="#3f7c7d" stroke-width="1.5"/>
<line x1="1583.1" y1="839.5" x2="1601.7" y2="839.5" stroke="#3f7c7d" stroke-width="1.5"/>
<line x1="1649.2" y1="948.8" x2="1649.2" y2="954.2" stroke="#f58231" stroke-width="1.5"/>
<line x1="1639.7" y1="948.8" x2="1658.9" y2="948.8" stroke="#f58231" stroke-width="1.5"/>
<rect x="1573.9" y="865.4" width="37.2" height="109.5" fill="#4d8082"/>
<rect x="1630.1" y="953.2" width="37.7" height="21.7" fill="#f58231"/>
<line x1="1554.8" y1="776.2" x2="1554.8" y2="897.7" stroke="#000" stroke-width="2"/>
<line x1="1554.8" y1="909.7" x2="1554.8" y2="975.9" stroke="#000" stroke-width="2"/>
<line x1="1546.3" y1="777.2" x2="1554.8" y2="777.2" stroke="#000" stroke-width="2"/>
<text font-family='"Liberation Sans", sans-serif' font-size="14.47" font-weight="bold" text-anchor="end" stroke="#000" stroke-width="0.45" x="1543.6" y="783.06">40</text>
<line x1="1546.3" y1="806.8" x2="1554.8" y2="806.8" stroke="#000" stroke-width="2"/>
<text font-family='"Liberation Sans", sans-serif' font-size="14.47" font-weight="bold" text-anchor="end" stroke="#000" stroke-width="0.45" x="1543.6" y="812.66">35</text>
<line x1="1546.3" y1="837" x2="1554.8" y2="837" stroke="#000" stroke-width="2"/>
<text font-family='"Liberation Sans", sans-serif' font-size="14.47" font-weight="bold" text-anchor="end" stroke="#000" stroke-width="0.45" x="1543.6" y="842.86">30</text>
<line x1="1546.3" y1="866.3" x2="1554.8" y2="866.3" stroke="#000" stroke-width="2"/>
<text font-family='"Liberation Sans", sans-serif' font-size="14.47" font-weight="bold" text-anchor="end" stroke="#000" stroke-width="0.45" x="1543.6" y="872.16">25</text>
<line x1="1549.7" y1="896.7" x2="1559.9" y2="896.7" stroke="#000" stroke-width="2"/>
<text font-family='"Liberation Sans", sans-serif' font-size="14.47" font-weight="bold" text-anchor="end" stroke="#000" stroke-width="0.45" x="1543.6" y="902.56">20</text>
<line x1="1549.7" y1="910.7" x2="1559.9" y2="910.7" stroke="#000" stroke-width="2"/>
<text font-family='"Liberation Sans", sans-serif' font-size="14.47" font-weight="bold" text-anchor="end" stroke="#000" stroke-width="0.45" x="1543.6" y="916.56">3</text>
<line x1="1546.3" y1="932.2" x2="1554.8" y2="932.2" stroke="#000" stroke-width="2"/>
<text font-family='"Liberation Sans", sans-serif' font-size="14.47" font-weight="bold" text-anchor="end" stroke="#000" stroke-width="0.45" x="1543.6" y="938.06">2</text>
<line x1="1546.3" y1="954" x2="1554.8" y2="954" stroke="#000" stroke-width="2"/>
<text font-family='"Liberation Sans", sans-serif' font-size="14.47" font-weight="bold" text-anchor="end" stroke="#000" stroke-width="0.45" x="1543.6" y="959.86">1</text>
<line x1="1546.3" y1="974.9" x2="1554.8" y2="974.9" stroke="#000" stroke-width="2"/>
<text font-family='"Liberation Sans", sans-serif' font-size="14.47" font-weight="bold" text-anchor="end" stroke="#000" stroke-width="0.45" x="1543.6" y="980.76">0</text>
<line x1="1546.3" y1="974.9" x2="1687.7" y2="974.9" stroke="#000" stroke-width="2"/>
<line x1="1620.2" y1="974.9" x2="1620.2" y2="983.3" stroke="#000" stroke-width="2"/>
<text font-family='"Liberation Sans", sans-serif' font-size="14.47" font-weight="bold" font-style="italic" text-anchor="middle" stroke="#000" stroke-width="0.4" x="1621.2" y="999">S100a9</text>
<path d="M1592.1 834.4V824.3H1650V834.4" fill="none" stroke="#111" stroke-width="1.3"/>
<text font-family='"Liberation Sans", sans-serif' font-size="14.5" font-weight="bold" text-anchor="middle" x="1621.5" y="821.9">*</text>
<text font-family='"Liberation Serif", serif' font-size="16.25" font-weight="bold" text-anchor="middle" textLength="186.7" lengthAdjust="spacingAndGlyphs" stroke="#000" stroke-width="0.35" transform="translate(1517.6 875.85) rotate(-90)">Relative mRNA expression</text>
</g>
<g id="chart-CD38">
<line x1="1851.9" y1="822.2" x2="1851.9" y2="847.6" stroke="#3f7c7d" stroke-width="1.5"/>
<line x1="1842.2" y1="822.2" x2="1862" y2="822.2" stroke="#3f7c7d" stroke-width="1.5"/>
<line x1="1910.3" y1="926.3" x2="1910.3" y2="933.1" stroke="#f58231" stroke-width="1.5"/>
<line x1="1900.7" y1="926.3" x2="1920" y2="926.3" stroke="#f58231" stroke-width="1.5"/>
<rect x="1833.1" y="846.6" width="38" height="135.7" fill="#4d8082"/>
<rect x="1891.5" y="932.1" width="38.3" height="50.2" fill="#f58231"/>
<line x1="1813.5" y1="775.8" x2="1813.5" y2="983.3" stroke="#000" stroke-width="2"/>
<line x1="1805" y1="776.8" x2="1813.5" y2="776.8" stroke="#000" stroke-width="2"/>
<text font-family='"Liberation Sans", sans-serif' font-size="14.91" font-weight="bold" text-anchor="end" stroke="#000" stroke-width="0.45" x="1802.6" y="782.82">4</text>
<line x1="1805" y1="829" x2="1813.5" y2="829" stroke="#000" stroke-width="2"/>
<text font-family='"Liberation Sans", sans-serif' font-size="14.91" font-weight="bold" text-anchor="end" stroke="#000" stroke-width="0.45" x="1802.6" y="835.02">3</text>
<line x1="1805" y1="880" x2="1813.5" y2="880" stroke="#000" stroke-width="2"/>
<text font-family='"Liberation Sans", sans-serif' font-size="14.91" font-weight="bold" text-anchor="end" stroke="#000" stroke-width="0.45" x="1802.6" y="886.02">2</text>
<line x1="1805" y1="931.4" x2="1813.5" y2="931.4" stroke="#000" stroke-width="2"/>
<text font-family='"Liberation Sans", sans-serif' font-size="14.91" font-weight="bold" text-anchor="end" stroke="#000" stroke-width="0.45" x="1802.6" y="937.42">1</text>
<line x1="1805" y1="982.3" x2="1813.5" y2="982.3" stroke="#000" stroke-width="2"/>
<text font-family='"Liberation Sans", sans-serif' font-size="14.91" font-weight="bold" text-anchor="end" stroke="#000" stroke-width="0.45" x="1802.6" y="988.32">0</text>
<line x1="1804.4" y1="982.3" x2="1950.2" y2="982.3" stroke="#000" stroke-width="2"/>
<line x1="1880.9" y1="982.3" x2="1880.9" y2="991.2" stroke="#000" stroke-width="2"/>
<text font-family='"Liberation Sans", sans-serif' font-size="14.91" font-weight="bold" font-style="italic" text-anchor="middle" stroke="#000" stroke-width="0.4" x="1881.9" y="1007.4">CD38</text>
<path d="M1850.1 816.9V807H1910.1V816.9" fill="none" stroke="#111" stroke-width="1.3"/>
<text font-family='"Liberation Sans", sans-serif' font-size="14.5" font-weight="bold" text-anchor="middle" x="1880.9" y="806.5">*</text>
<text font-family='"Liberation Serif", serif' font-size="16.75" font-weight="bold" text-anchor="middle" textLength="192.4" lengthAdjust="spacingAndGlyphs" stroke="#000" stroke-width="0.35" transform="translate(1782.6 879.7) rotate(-90)">Relative mRNA expression</text>
</g>
<g id="legend">
<text font-family='"Liberation Serif", serif' font-size="19" stroke="#000" stroke-width="0.2" x="1867.2" y="77.5">group</text>
<rect x="1868" y="91" width="32.4" height="15.9" fill="#327a70"/>
<rect x="1867" y="113.1" width="32.2" height="15.9" fill="#e0702e"/>
<text font-family='"Liberation Serif", serif' font-size="16.7" textLength="40.2" lengthAdjust="spacingAndGlyphs" x="1911" y="104.05">Normal</text>
<text font-family='"Liberation Sans", sans-serif' font-size="15.8" stroke="#000" stroke-width="0.25" transform="translate(1912 126.3) scale(0.97 1)">HF</text>
</g>
<g id="panelC">
<text font-family='"Liberation Sans", sans-serif' font-size="42" font-weight="bold" transform="translate(3.2 764) scale(0.96 1)">C</text>
<text font-family='"Liberation Serif", serif' font-size="18.8" text-anchor="middle" stroke="#000" stroke-width="0.35" x="244.5" y="794.6">HF</text>
<text font-family='"Liberation Serif", serif' font-size="18.8" text-anchor="middle" stroke="#000" stroke-width="0.35" x="697.3" y="794.6">Normal</text>
<line x1="11.2" y1="813.3" x2="463" y2="813.3" stroke="#000" stroke-width="2.9"/>
<line x1="475.1" y1="813.3" x2="928.3" y2="813.3" stroke="#000" stroke-width="2.9"/>
<defs>
<filter id="usHF" x="0" y="0" width="100%" height="100%" color-interpolation-filters="sRGB"><feTurbulence type="fractalNoise" baseFrequency="0.03 0.3" numOctaves="1" seed="11" result="n1"/><feTurbulence type="fractalNoise" baseFrequency="0.2 0.32" numOctaves="2" seed="5" result="n2"/><feComposite in="n1" in2="n2" operator="arithmetic" k1="0" k2="0.55" k3="0.45" k4="0" result="n"/><feColorMatrix in="n" type="matrix" values="1.8 0 0 0 -0.4  1.8 0 0 0 -0.4  1.8 0 0 0 -0.4  0 0 0 0 1" result="g"/><feComposite in="SourceGraphic" in2="g" operator="arithmetic" k1="0.9" k2="0.55" k3="0" k4="0"/></filter>
<filter id="usN" x="0" y="0" width="100%" height="100%" color-interpolation-filters="sRGB"><feTurbulence type="fractalNoise" baseFrequency="0.035 0.3" numOctaves="1" seed="23" result="n1"/><feTurbulence type="fractalNoise" baseFrequency="0.22 0.3" numOctaves="2" seed="7" result="n2"/><feComposite in="n1" in2="n2" operator="arithmetic" k1="0" k2="0.55" k3="0.45" k4="0" result="n"/><feColorMatrix in="n" type="matrix" values="1.8 0 0 0 -0.4  1.8 0 0 0 -0.4  1.8 0 0 0 -0.4  0 0 0 0 1" result="g"/><feComposite in="SourceGraphic" in2="g" operator="arithmetic" k1="0.9" k2="0.55" k3="0" k4="0"/></filter>
<filter id="spHF" x="0" y="0" width="100%" height="100%" color-interpolation-filters="sRGB"><feTurbulence type="fractalNoise" baseFrequency="0.11 0.42" numOctaves="2" seed="31"/><feColorMatrix type="matrix" values="0 0 0 0 0  0 0 0 0 0  0 0 0 0 0  5 0 0 0 -2.5"/><feComposite in2="SourceGraphic" operator="in"/></filter>
<filter id="spN" x="0" y="0" width="100%" height="100%" color-interpolation-filters="sRGB"><feTurbulence type="fractalNoise" baseFrequency="0.3 0.32" numOctaves="2" seed="37"/><feColorMatrix type="matrix" values="0 0 0 0 0  0 0 0 0 0  0 0 0 0 0  5 0 0 0 -2.5"/><feComposite in2="SourceGraphic" operator="in"/></filter>
<linearGradient id="gHF" x1="0" y1="835" x2="0" y2="985" gradientUnits="userSpaceOnUse"><stop offset="0%" stop-color="#6a6a6a"/><stop offset="2.4%" stop-color="#808080"/><stop offset="3.33%" stop-color="#c8c8c8"/><stop offset="4.4%" stop-color="#c8c8c8"/><stop offset="5.33%" stop-color="#7c7c7c"/><stop offset="7.33%" stop-color="#5e5e5e"/><stop offset="9.67%" stop-color="#444444"/><stop offset="12%" stop-color="#343434"/><stop offset="15.33%" stop-color="#282828"/><stop offset="20.67%" stop-color="#181818"/><stop offset="62%" stop-color="#101010"/><stop offset="66%" stop-color="#383838"/><stop offset="69%" stop-color="#bcbcbc"/><stop offset="72.67%" stop-color="#a6a6a6"/><stop offset="76.67%" stop-color="#949494"/><stop offset="84.67%" stop-color="#8a8a8a"/><stop offset="100%" stop-color="#828282"/></linearGradient>
<linearGradient id="gN" x1="0" y1="835" x2="0" y2="985.5" gradientUnits="userSpaceOnUse"><stop offset="0%" stop-color="#787878"/><stop offset="4.65%" stop-color="#7e7e7e"/><stop offset="5.85%" stop-color="#b8b8b8"/><stop offset="8.11%" stop-color="#b4b4b4"/><stop offset="9.44%" stop-color="#545454"/><stop offset="11.96%" stop-color="#3c3c3c"/><stop offset="15.28%" stop-color="#303030"/><stop offset="20.6%" stop-color="#2a2a2a"/><stop offset="26.58%" stop-color="#282828"/><stop offset="60.47%" stop-color="#303030"/><stop offset="64.45%" stop-color="#505050"/><stop offset="67.11%" stop-color="#b6b6b6"/><stop offset="69.77%" stop-color="#cacaca"/><stop offset="72.43%" stop-color="#b2b2b2"/><stop offset="75.08%" stop-color="#868686"/><stop offset="78.41%" stop-color="#686868"/><stop offset="84.39%" stop-color="#5a5a5a"/><stop offset="100%" stop-color="#525252"/></linearGradient>
<linearGradient id="fadeHF" x1="0" y1="938" x2="0" y2="956" gradientUnits="userSpaceOnUse"><stop offset="0%" stop-color="#000000"/><stop offset="100%" stop-color="#ffffff"/></linearGradient>
<linearGradient id="fadeN" x1="0" y1="944" x2="0" y2="954" gradientUnits="userSpaceOnUse"><stop offset="0%" stop-color="#000000"/><stop offset="100%" stop-color="#ffffff"/></linearGradient>
<mask id="mHF" maskUnits="userSpaceOnUse" x="12" y="835" width="451" height="151"><rect x="12" y="835" width="451" height="151" fill="url(#fadeHF)"/></mask>
<mask id="mN" maskUnits="userSpaceOnUse" x="477" y="835" width="451" height="151"><rect x="477" y="835" width="451" height="151" fill="url(#fadeN)"/></mask>
<clipPath id="cHF"><rect x="12" y="835" width="450.4" height="150"/></clipPath>
<clipPath id="cN"><rect x="477.4" y="835" width="450.3" height="150.4"/></clipPath>
</defs>
<rect x="8.8" y="831.8" width="456.8" height="156" fill="#000"/>
<g clip-path="url(#cHF)">
<g filter="url(#usHF)">
<rect x="12" y="835" width="450.4" height="150" fill="url(#gHF)"/>
<path d="M11 866.2L13 866.26L15 866.4L17 866.59L19 866.78L21 866.93L23 867L25 866.79L27 865.99L29 864.71L31 863.17L33 861.62L35 860.3L37 859.45L39 859.2L41 859.2L43 859.21L45 859.23L47 859.24L49 859.27L51 859.29L53 859.31L55 859.34L57 859.36L59 859.38L61 859.39L63 859.4L65 859.4L67 859.45L69 859.6L71 859.85L73 860.19L75 860.6L77 861.08L79 861.62L81 862.18L83 862.77L85 863.36L87 863.93L89 864.47L91 864.95L93 865.38L95 865.72L97 865.98L99 866.14L101 866.2L103 866.24L105 866.37L107 866.55L109 866.74L111 866.9L113 866.99L115 866.89L117 866.22L119 865.03L121 863.53L123 861.95L125 860.57L127 859.6L129 859.2L131 859.2L133 859.21L135 859.22L137 859.24L139 859.26L141 859.28L143 859.31L145 859.33L147 859.35L149 859.37L151 859.39L153 859.4L155 859.4L157 859.43L159 859.56L161 859.79L163 860.1L165 860.5L167 860.97L169 861.49L171 862.05L173 862.64L175 863.23L177 863.8L179 864.35L181 864.85L183 865.29L185 865.65L187 865.93L189 866.11L191 866.19L193 866.22L195 866.33L197 866.5L199 866.7L201 866.87L203 866.98L205 866.96L207 866.42L209 865.34L211 863.88L213 862.3L215 860.85L217 859.77L219 859.24L221 859.2L223 859.21L225 859.22L227 859.24L229 859.26L231 859.28L233 859.3L235 859.33L237 859.35L239 859.37L241 859.38L243 859.39L245 859.4L247 859.42L249 859.52L251 859.73L253 860.02L255 860.41L257 860.86L259 861.37L261 861.93L263 862.51L265 863.1L267 863.68L269 864.23L271 864.74L273 865.2L275 865.58L277 865.87L279 866.08L281 866.18L283 866.21L285 866.3L287 866.46L289 866.66L291 866.84L293 866.96L295 866.99L297 866.6L299 865.62L301 864.23L303 862.65L305 861.15L307 859.97L309 859.3L311 859.2L313 859.21L315 859.22L317 859.23L319 859.25L321 859.27L323 859.3L325 859.32L327 859.34L329 859.36L331 859.38L333 859.39L335 859.4L337 859.41L339 859.49L341 859.67L343 859.95L345 860.31L347 860.75L349 861.25L351 861.8L353 862.37L355 862.96L357 863.55L359 864.11L361 864.63L363 865.1L365 865.5L367 865.81L369 866.04L371 866.17L373 866.2L375 866.27L377 866.42L379 866.61L381 866.8L383 866.94L385 867L387 866.74L389 865.88L391 864.57L393 863.01L395 861.47L397 860.2L399 859.4L401 859.2L403 859.2L405 859.21L407 859.23L409 859.25L411 859.27L413 859.29L415 859.32L417 859.34L419 859.36L421 859.38L423 859.39L425 859.4L427 859.4L429 859.46L431 859.62L433 859.88L435 860.22L437 860.65L439 861.13L441 861.67L443 862.24L445 862.83L447 863.42L449 863.99L451 864.52L453 865L455 865.41L457 865.75L459 866L461 866.15L463 866.2L463.5 866.2L463.5 917.02L463 917.01L461 917L459 917.12L457 917.46L455 918.02L453 918.75L451 919.63L449 920.62L447 921.67L445 922.73L443 923.75L441 924.69L439 925.49L437 926.12L435 926.56L433 926.78L431 926.67L429 925.86L427 924.54L425 923.14L423 922.12L421 921.8L419 921.75L417 921.62L415 921.41L413 921.14L411 920.81L409 920.43L407 920.03L405 919.61L403 919.19L401 918.78L399 918.4L397 918.07L395 917.8L393 917.59L391 917.45L389 917.4L387 917.39L385 917.36L383 917.31L381 917.25L379 917.18L377 917.11L375 917.06L373 917.02L371 917L369 917.07L367 917.37L365 917.88L363 918.57L361 919.43L359 920.39L357 921.43L355 922.5L353 923.53L351 924.49L349 925.32L347 926L345 926.48L343 926.75L341 926.76L339 926.1L337 924.86L335 923.43L333 922.29L331 921.8L329 921.77L327 921.65L325 921.46L323 921.21L321 920.89L319 920.52L317 920.12L315 919.7L313 919.28L311 918.87L309 918.48L307 918.14L305 917.85L303 917.63L301 917.48L299 917.41L297 917.4L295 917.37L293 917.32L291 917.26L289 917.19L287 917.13L285 917.07L283 917.02L281 917L279 917.04L277 917.28L275 917.74L273 918.4L271 919.22L269 920.17L267 921.2L265 922.26L263 923.3L261 924.28L259 925.15L257 925.86L255 926.39L253 926.71L251 926.8L249 926.31L247 925.17L245 923.75L243 922.5L241 921.84L239 921.78L237 921.69L235 921.51L233 921.27L231 920.96L229 920.61L227 920.21L225 919.8L223 919.37L221 918.96L219 918.57L217 918.21L215 917.91L213 917.67L211 917.51L209 917.42L207 917.4L205 917.38L203 917.33L201 917.28L199 917.21L197 917.14L195 917.08L193 917.03L191 917.01L189 917.01L187 917.21L185 917.62L183 918.24L181 919.02L179 919.95L177 920.96L175 922.02L173 923.07L171 924.07L169 924.96L167 925.72L165 926.29L163 926.65L161 926.8L159 926.49L157 925.47L155 924.07L153 922.74L151 921.93L149 921.79L147 921.71L145 921.56L143 921.33L141 921.04L139 920.69L137 920.31L135 919.89L133 919.47L131 919.05L129 918.65L127 918.29L125 917.97L123 917.72L121 917.54L119 917.43L117 917.4L115 917.38L113 917.35L111 917.29L109 917.22L107 917.16L105 917.09L103 917.04L101 917.01L99 917L97 917.14L95 917.51L93 918.08L91 918.83L89 919.73L87 920.73L85 921.78L83 922.84L81 923.85L79 924.77L77 925.56L75 926.18L73 926.59L71 926.79L69 926.63L67 925.74L65 924.39L63 923.01L61 922.05L59 921.8L57 921.74L55 921.6L53 921.39L51 921.11L49 920.77L47 920.4L45 919.99L43 919.56L41 919.14L39 918.74L37 918.37L35 918.04L33 917.77L31 917.57L29 917.45L27 917.4L25 917.39L23 917.36L21 917.3L19 917.24L17 917.17L15 917.11L13 917.05L11 917.01Z" fill="#0b0b0b"/>
<path d="M11 908.01L13 908.05L15 908.11L17 908.17L19 908.24L21 908.3L23 908.36L25 908.39L27 908.4L29 908.45L31 908.57L33 908.77L35 909.04L37 909.37L39 909.74L41 910.14L43 910.56L45 910.99L47 911.4L49 911.77L51 912.11L53 912.39L55 912.6L57 912.74L59 912.8L61 913.05L63 914.01L65 915.39L67 916.74L69 917.63L71 917.79L73 917.59L75 917.18L77 916.56L79 915.77L81 914.85L83 913.84L85 912.78L87 911.73L89 910.73L91 909.83L93 909.08L95 908.51L97 908.14L99 908L101 908.01L103 908.04L105 908.09L107 908.16L109 908.22L111 908.29L113 908.35L115 908.38L117 908.4L119 908.43L121 908.54L123 908.72L125 908.97L127 909.29L129 909.65L131 910.05L133 910.47L135 910.89L137 911.31L139 911.69L141 912.04L143 912.33L145 912.56L147 912.71L149 912.79L151 912.93L153 913.74L155 915.07L157 916.47L159 917.49L161 917.8L163 917.65L165 917.29L167 916.72L169 915.96L171 915.07L173 914.07L175 913.02L177 911.96L179 910.95L181 910.02L183 909.24L185 908.62L187 908.21L189 908.01L191 908.01L193 908.03L195 908.08L197 908.14L199 908.21L201 908.28L203 908.33L205 908.38L207 908.4L209 908.42L211 908.51L213 908.67L215 908.91L217 909.21L219 909.57L221 909.96L223 910.37L225 910.8L227 911.21L229 911.61L231 911.96L233 912.27L235 912.51L237 912.69L239 912.78L241 912.84L243 913.5L245 914.75L247 916.17L249 917.31L251 917.8L253 917.71L255 917.39L257 916.86L259 916.15L261 915.28L263 914.3L265 913.26L267 912.2L269 911.17L271 910.22L273 909.4L275 908.74L277 908.28L279 908.04L281 908L283 908.02L285 908.07L287 908.13L289 908.19L291 908.26L293 908.32L295 908.37L297 908.4L299 908.41L301 908.48L303 908.63L305 908.85L307 909.14L309 909.48L311 909.87L313 910.28L315 910.7L317 911.12L319 911.52L321 911.89L323 912.21L325 912.46L327 912.65L329 912.77L331 912.8L333 913.29L335 914.43L337 915.86L339 917.1L341 917.76L343 917.75L345 917.48L347 917L349 916.32L351 915.49L353 914.53L355 913.5L357 912.43L359 911.39L361 910.43L363 909.57L365 908.88L367 908.37L369 908.07L371 908L373 908.02L375 908.06L377 908.11L379 908.18L381 908.25L383 908.31L385 908.36L387 908.39L389 908.4L391 908.45L393 908.59L395 908.8L397 909.07L399 909.4L401 909.78L403 910.19L405 910.61L407 911.03L409 911.43L411 911.81L413 912.14L415 912.41L417 912.62L419 912.75L421 912.8L423 913.12L425 914.14L427 915.54L429 916.86L431 917.67L433 917.78L435 917.56L437 917.12L439 916.49L441 915.69L443 914.75L445 913.73L447 912.67L449 911.62L451 910.63L453 909.75L455 909.02L457 908.46L459 908.12L461 908L463 908.01L463.5 908.02" fill="none" stroke="#161616" stroke-width="1.2"/>
<path d="M11 917.01L13 917.05L15 917.11L17 917.17L19 917.24L21 917.3L23 917.36L25 917.39L27 917.4L29 917.45L31 917.57L33 917.77L35 918.04L37 918.37L39 918.74L41 919.14L43 919.56L45 919.99L47 920.4L49 920.77L51 921.11L53 921.39L55 921.6L57 921.74L59 921.8L61 922.05L63 923.01L65 924.39L67 925.74L69 926.63L71 926.79L73 926.59L75 926.18L77 925.56L79 924.77L81 923.85L83 922.84L85 921.78L87 920.73L89 919.73L91 918.83L93 918.08L95 917.51L97 917.14L99 917L101 917.01L103 917.04L105 917.09L107 917.16L109 917.22L111 917.29L113 917.35L115 917.38L117 917.4L119 917.43L121 917.54L123 917.72L125 917.97L127 918.29L129 918.65L131 919.05L133 919.47L135 919.89L137 920.31L139 920.69L141 921.04L143 921.33L145 921.56L147 921.71L149 921.79L151 921.93L153 922.74L155 924.07L157 925.47L159 926.49L161 926.8L163 926.65L165 926.29L167 925.72L169 924.96L171 924.07L173 923.07L175 922.02L177 920.96L179 919.95L181 919.02L183 918.24L185 917.62L187 917.21L189 917.01L191 917.01L193 917.03L195 917.08L197 917.14L199 917.21L201 917.28L203 917.33L205 917.38L207 917.4L209 917.42L211 917.51L213 917.67L215 917.91L217 918.21L219 918.57L221 918.96L223 919.37L225 919.8L227 920.21L229 920.61L231 920.96L233 921.27L235 921.51L237 921.69L239 921.78L241 921.84L243 922.5L245 923.75L247 925.17L249 926.31L251 926.8L253 926.71L255 926.39L257 925.86L259 925.15L261 924.28L263 923.3L265 922.26L267 921.2L269 920.17L271 919.22L273 918.4L275 917.74L277 917.28L279 917.04L281 917L283 917.02L285 917.07L287 917.13L289 917.19L291 917.26L293 917.32L295 917.37L297 917.4L299 917.41L301 917.48L303 917.63L305 917.85L307 918.14L309 918.48L311 918.87L313 919.28L315 919.7L317 920.12L319 920.52L321 920.89L323 921.21L325 921.46L327 921.65L329 921.77L331 921.8L333 922.29L335 923.43L337 924.86L339 926.1L341 926.76L343 926.75L345 926.48L347 926L349 925.32L351 924.49L353 923.53L355 922.5L357 921.43L359 920.39L361 919.43L363 918.57L365 917.88L367 917.37L369 917.07L371 917L373 917.02L375 917.06L377 917.11L379 917.18L381 917.25L383 917.31L385 917.36L387 917.39L389 917.4L391 917.45L393 917.59L395 917.8L397 918.07L399 918.4L401 918.78L403 919.19L405 919.61L407 920.03L409 920.43L411 920.81L413 921.14L415 921.41L417 921.62L419 921.75L421 921.8L423 922.12L425 923.14L427 924.54L429 925.86L431 926.67L433 926.78L435 926.56L437 926.12L439 925.49L441 924.69L443 923.75L445 922.73L447 921.67L449 920.62L451 919.63L453 918.75L455 918.02L457 917.46L459 917.12L461 917L463 917.01L463.5 917.02L463.5 935.93L463 935.92L461 935.9L459 935.9L457 935.95L455 936.06L453 936.25L451 936.49L449 936.77L447 937.08L445 937.41L443 937.73L441 938.02L439 938.28L437 938.48L435 938.62L433 938.69L431 938.65L429 938.31L427 937.8L425 937.36L423 937.2L421 937.19L419 937.16L417 937.11L415 937.05L413 936.97L411 936.88L409 936.79L407 936.69L405 936.59L403 936.5L401 936.41L399 936.34L397 936.28L395 936.23L393 936.21L391 936.2L389 936.19L387 936.17L385 936.14L383 936.11L381 936.07L379 936.03L377 935.99L375 935.95L373 935.92L371 935.91L369 935.9L367 935.93L365 936.03L363 936.2L361 936.43L359 936.71L357 937.01L355 937.34L353 937.66L351 937.96L349 938.22L347 938.44L345 938.6L343 938.68L341 938.68L339 938.4L337 937.92L335 937.44L333 937.21L331 937.19L329 937.17L327 937.12L325 937.06L323 936.99L321 936.9L319 936.81L317 936.71L315 936.61L313 936.52L311 936.43L309 936.35L307 936.29L305 936.24L303 936.21L301 936.2L299 936.19L297 936.18L295 936.15L293 936.12L291 936.08L289 936.04L287 936L285 935.96L283 935.93L281 935.91L279 935.9L277 935.92L275 936L273 936.16L271 936.38L269 936.64L267 936.94L265 937.26L263 937.58L261 937.89L259 938.17L257 938.4L255 938.57L253 938.67L251 938.7L249 938.49L247 938.03L245 937.54L243 937.23L241 937.2L239 937.18L237 937.14L235 937.08L233 937.01L231 936.92L229 936.83L227 936.73L225 936.63L223 936.54L221 936.45L219 936.37L217 936.3L215 936.25L213 936.22L211 936.2L209 936.2L207 936.18L205 936.16L203 936.13L201 936.09L199 936.05L197 936.01L195 935.97L193 935.94L191 935.91L189 935.9L187 935.91L185 935.98L183 936.12L181 936.32L179 936.58L177 936.87L175 937.19L173 937.51L171 937.82L169 938.11L167 938.35L165 938.53L163 938.65L161 938.7L159 938.57L157 938.15L155 937.64L153 937.27L151 937.2L149 937.18L147 937.15L145 937.09L143 937.02L141 936.94L139 936.85L137 936.76L135 936.66L133 936.56L131 936.47L129 936.38L127 936.31L125 936.26L123 936.22L121 936.2L119 936.2L117 936.19L115 936.16L113 936.13L111 936.1L109 936.06L107 936.01L105 935.98L103 935.94L101 935.92L99 935.9L97 935.9L95 935.96L93 936.08L91 936.27L89 936.52L87 936.8L85 937.12L83 937.44L81 937.76L79 938.05L77 938.3L75 938.5L73 938.63L71 938.7L69 938.62L67 938.26L65 937.75L63 937.33L61 937.2L59 937.19L57 937.16L55 937.11L53 937.04L51 936.96L49 936.87L47 936.78L45 936.68L43 936.58L41 936.49L39 936.4L37 936.33L35 936.27L33 936.23L31 936.2L29 936.2L27 936.19L25 936.17L23 936.14L21 936.11L19 936.06L17 936.02L15 935.98L13 935.95L11 935.92Z" fill="#3a3a3a"/>
<path d="M11 919.61L13 919.65L15 919.71L17 919.77L19 919.84L21 919.9L23 919.96L25 919.99L27 920L29 920.05L31 920.17L33 920.37L35 920.64L37 920.97L39 921.34L41 921.74L43 922.16L45 922.59L47 923L49 923.37L51 923.71L53 923.99L55 924.2L57 924.34L59 924.4L61 924.65L63 925.61L65 926.99L67 928.34L69 929.23L71 929.39L73 929.19L75 928.78L77 928.16L79 927.37L81 926.45L83 925.44L85 924.38L87 923.33L89 922.33L91 921.43L93 920.68L95 920.11L97 919.74L99 919.6L101 919.61L103 919.64L105 919.69L107 919.76L109 919.82L111 919.89L113 919.95L115 919.98L117 920L119 920.03L121 920.14L123 920.32L125 920.57L127 920.89L129 921.25L131 921.65L133 922.07L135 922.49L137 922.91L139 923.29L141 923.64L143 923.93L145 924.16L147 924.31L149 924.39L151 924.53L153 925.34L155 926.67L157 928.07L159 929.09L161 929.4L163 929.25L165 928.89L167 928.32L169 927.56L171 926.67L173 925.67L175 924.62L177 923.56L179 922.55L181 921.62L183 920.84L185 920.22L187 919.81L189 919.61L191 919.61L193 919.63L195 919.68L197 919.74L199 919.81L201 919.88L203 919.93L205 919.98L207 920L209 920.02L211 920.11L213 920.27L215 920.51L217 920.81L219 921.17L221 921.56L223 921.97L225 922.4L227 922.81L229 923.21L231 923.56L233 923.87L235 924.11L237 924.29L239 924.38L241 924.44L243 925.1L245 926.35L247 927.77L249 928.91L251 929.4L253 929.31L255 928.99L257 928.46L259 927.75L261 926.88L263 925.9L265 924.86L267 923.8L269 922.77L271 921.82L273 921L275 920.34L277 919.88L279 919.64L281 919.6L283 919.62L285 919.67L287 919.73L289 919.79L291 919.86L293 919.92L295 919.97L297 920L299 920.01L301 920.08L303 920.23L305 920.45L307 920.74L309 921.08L311 921.47L313 921.88L315 922.3L317 922.72L319 923.12L321 923.49L323 923.81L325 924.06L327 924.25L329 924.37L331 924.4L333 924.89L335 926.03L337 927.46L339 928.7L341 929.36L343 929.35L345 929.08L347 928.6L349 927.92L351 927.09L353 926.13L355 925.1L357 924.03L359 922.99L361 922.03L363 921.17L365 920.48L367 919.97L369 919.67L371 919.6L373 919.62L375 919.66L377 919.71L379 919.78L381 919.85L383 919.91L385 919.96L387 919.99L389 920L391 920.05L393 920.19L395 920.4L397 920.67L399 921L401 921.38L403 921.79L405 922.21L407 922.63L409 923.03L411 923.41L413 923.74L415 924.01L417 924.22L419 924.35L421 924.4L423 924.72L425 925.74L427 927.14L429 928.46L431 929.27L433 929.38L435 929.16L437 928.72L439 928.09L441 927.29L443 926.35L445 925.33L447 924.27L449 923.22L451 922.23L453 921.35L455 920.62L457 920.06L459 919.72L461 919.6L463 919.61L463.5 919.62" fill="none" stroke="#4e4e4e" stroke-width="1.2"/>
<path d="M11 922.41L13 922.45L15 922.51L17 922.57L19 922.64L21 922.7L23 922.76L25 922.79L27 922.8L29 922.85L31 922.97L33 923.17L35 923.44L37 923.77L39 924.14L41 924.54L43 924.96L45 925.39L47 925.8L49 926.17L51 926.51L53 926.79L55 927L57 927.14L59 927.2L61 927.45L63 928.41L65 929.79L67 931.14L69 932.03L71 932.19L73 931.99L75 931.58L77 930.96L79 930.17L81 929.25L83 928.24L85 927.18L87 926.13L89 925.13L91 924.23L93 923.48L95 922.91L97 922.54L99 922.4L101 922.41L103 922.44L105 922.49L107 922.56L109 922.62L111 922.69L113 922.75L115 922.78L117 922.8L119 922.83L121 922.94L123 923.12L125 923.37L127 923.69L129 924.05L131 924.45L133 924.87L135 925.29L137 925.71L139 926.09L141 926.44L143 926.73L145 926.96L147 927.11L149 927.19L151 927.33L153 928.14L155 929.47L157 930.87L159 931.89L161 932.2L163 932.05L165 931.69L167 931.12L169 930.36L171 929.47L173 928.47L175 927.42L177 926.36L179 925.35L181 924.42L183 923.64L185 923.02L187 922.61L189 922.41L191 922.41L193 922.43L195 922.48L197 922.54L199 922.61L201 922.68L203 922.73L205 922.78L207 922.8L209 922.82L211 922.91L213 923.07L215 923.31L217 923.61L219 923.97L221 924.36L223 924.77L225 925.2L227 925.61L229 926.01L231 926.36L233 926.67L235 926.91L237 927.09L239 927.18L241 927.24L243 927.9L245 929.15L247 930.57L249 931.71L251 932.2L253 932.11L255 931.79L257 931.26L259 930.55L261 929.68L263 928.7L265 927.66L267 926.6L269 925.57L271 924.62L273 923.8L275 923.14L277 922.68L279 922.44L281 922.4L283 922.42L285 922.47L287 922.53L289 922.59L291 922.66L293 922.72L295 922.77L297 922.8L299 922.81L301 922.88L303 923.03L305 923.25L307 923.54L309 923.88L311 924.27L313 924.68L315 925.1L317 925.52L319 925.92L321 926.29L323 926.61L325 926.86L327 927.05L329 927.17L331 927.2L333 927.69L335 928.83L337 930.26L339 931.5L341 932.16L343 932.15L345 931.88L347 931.4L349 930.72L351 929.89L353 928.93L355 927.9L357 926.83L359 925.79L361 924.83L363 923.97L365 923.28L367 922.77L369 922.47L371 922.4L373 922.42L375 922.46L377 922.51L379 922.58L381 922.65L383 922.71L385 922.76L387 922.79L389 922.8L391 922.85L393 922.99L395 923.2L397 923.47L399 923.8L401 924.18L403 924.59L405 925.01L407 925.43L409 925.83L411 926.21L413 926.54L415 926.81L417 927.02L419 927.15L421 927.2L423 927.52L425 928.54L427 929.94L429 931.26L431 932.07L433 932.18L435 931.96L437 931.52L439 930.89L441 930.09L443 929.15L445 928.13L447 927.07L449 926.02L451 925.03L453 924.15L455 923.42L457 922.86L459 922.52L461 922.4L463 922.41L463.5 922.42" fill="none" stroke="#222" stroke-width="1.4"/>
<path d="M11 932.72L13 932.75L15 932.78L17 932.82L19 932.86L21 932.91L23 932.94L25 932.97L27 932.99L29 933L31 933L33 933.03L35 933.07L37 933.13L39 933.2L41 933.29L43 933.38L45 933.48L47 933.58L49 933.67L51 933.76L53 933.84L55 933.91L57 933.96L59 933.99L61 934L63 934.13L65 934.55L67 935.06L69 935.42L71 935.5L73 935.43L75 935.3L77 935.1L79 934.85L81 934.56L83 934.24L85 933.92L87 933.6L89 933.32L91 933.07L93 932.88L95 932.76L97 932.7L99 932.7L101 932.72L103 932.74L105 932.78L107 932.81L109 932.86L111 932.9L113 932.93L115 932.96L117 932.99L119 933L121 933L123 933.02L125 933.06L127 933.11L129 933.18L131 933.27L133 933.36L135 933.46L137 933.56L139 933.65L141 933.74L143 933.82L145 933.89L147 933.95L149 933.98L151 934L153 934.07L155 934.44L157 934.95L159 935.37L161 935.5L163 935.45L165 935.33L167 935.15L169 934.91L171 934.62L173 934.31L175 933.99L177 933.67L179 933.38L181 933.12L183 932.92L185 932.78L187 932.71L189 932.7L191 932.71L193 932.74L195 932.77L197 932.81L199 932.85L201 932.89L203 932.93L205 932.96L207 932.98L209 933L211 933L213 933.02L215 933.05L217 933.1L219 933.17L221 933.25L223 933.34L225 933.43L227 933.53L229 933.63L231 933.72L233 933.81L235 933.88L237 933.94L239 933.98L241 934L243 934.03L245 934.34L247 934.83L249 935.29L251 935.5L253 935.47L255 935.37L257 935.2L259 934.97L261 934.69L263 934.38L265 934.06L267 933.74L269 933.44L271 933.18L273 932.96L275 932.8L277 932.72L279 932.7L281 932.71L283 932.73L285 932.76L287 932.8L289 932.84L291 932.88L293 932.92L295 932.95L297 932.98L299 932.99L301 933L303 933.01L305 933.04L307 933.09L309 933.15L311 933.23L313 933.32L315 933.41L317 933.51L319 933.61L321 933.7L323 933.79L325 933.86L327 933.92L329 933.97L331 933.99L333 934.01L335 934.24L337 934.72L339 935.2L341 935.48L343 935.48L345 935.4L347 935.24L349 935.02L351 934.76L353 934.46L355 934.14L357 933.81L359 933.51L361 933.23L363 933L365 932.83L367 932.73L369 932.7L371 932.71L373 932.72L375 932.75L377 932.79L379 932.83L381 932.87L383 932.91L385 932.94L387 932.97L389 932.99L391 933L393 933.01L395 933.03L397 933.08L399 933.14L401 933.21L403 933.3L405 933.39L407 933.49L409 933.59L411 933.68L413 933.77L415 933.85L417 933.91L419 933.96L421 933.99L423 934L425 934.16L427 934.6L429 935.11L431 935.45L433 935.49L435 935.42L437 935.28L439 935.08L441 934.82L443 934.53L445 934.21L447 933.88L449 933.57L451 933.29L453 933.05L455 932.86L457 932.75L459 932.7L461 932.7L463 932.72L463.5 932.73" fill="none" stroke="#1e1e1e" stroke-width="1.6"/>
</g>
<g mask="url(#mHF)"><rect x="12" y="936" width="450.4" height="47" fill="#000" opacity="0.55" filter="url(#spHF)"/></g>
<path d="M11 936.02L13 936.05L15 936.08L17 936.12L19 936.16L21 936.21L23 936.24L25 936.27L27 936.29L29 936.3L31 936.3L33 936.33L35 936.37L37 936.43L39 936.5L41 936.59L43 936.68L45 936.78L47 936.88L49 936.97L51 937.06L53 937.14L55 937.21L57 937.26L59 937.29L61 937.3L63 937.43L65 937.85L67 938.36L69 938.72L71 938.8L73 938.73L75 938.6L77 938.4L79 938.15L81 937.86L83 937.54L85 937.22L87 936.9L89 936.62L91 936.37L93 936.18L95 936.06L97 936L99 936L101 936.02L103 936.04L105 936.08L107 936.11L109 936.16L111 936.2L113 936.23L115 936.26L117 936.29L119 936.3L121 936.3L123 936.32L125 936.36L127 936.41L129 936.48L131 936.57L133 936.66L135 936.76L137 936.86L139 936.95L141 937.04L143 937.12L145 937.19L147 937.25L149 937.28L151 937.3L153 937.37L155 937.74L157 938.25L159 938.67L161 938.8L163 938.75L165 938.63L167 938.45L169 938.21L171 937.92L173 937.61L175 937.29L177 936.97L179 936.68L181 936.42L183 936.22L185 936.08L187 936.01L189 936L191 936.01L193 936.04L195 936.07L197 936.11L199 936.15L201 936.19L203 936.23L205 936.26L207 936.28L209 936.3L211 936.3L213 936.32L215 936.35L217 936.4L219 936.47L221 936.55L223 936.64L225 936.73L227 936.83L229 936.93L231 937.02L233 937.11L235 937.18L237 937.24L239 937.28L241 937.3L243 937.33L245 937.64L247 938.13L249 938.59L251 938.8L253 938.77L255 938.67L257 938.5L259 938.27L261 937.99L263 937.68L265 937.36L267 937.04L269 936.74L271 936.48L273 936.26L275 936.1L277 936.02L279 936L281 936.01L283 936.03L285 936.06L287 936.1L289 936.14L291 936.18L293 936.22L295 936.25L297 936.28L299 936.29L301 936.3L303 936.31L305 936.34L307 936.39L309 936.45L311 936.53L313 936.62L315 936.71L317 936.81L319 936.91L321 937L323 937.09L325 937.16L327 937.22L329 937.27L331 937.29L333 937.31L335 937.54L337 938.02L339 938.5L341 938.78L343 938.78L345 938.7L347 938.54L349 938.32L351 938.06L353 937.76L355 937.44L357 937.11L359 936.81L361 936.53L363 936.3L365 936.13L367 936.03L369 936L371 936.01L373 936.02L375 936.05L377 936.09L379 936.13L381 936.17L383 936.21L385 936.24L387 936.27L389 936.29L391 936.3L393 936.31L395 936.33L397 936.38L399 936.44L401 936.51L403 936.6L405 936.69L407 936.79L409 936.89L411 936.98L413 937.07L415 937.15L417 937.21L419 937.26L421 937.29L423 937.3L425 937.46L427 937.9L429 938.41L431 938.75L433 938.79L435 938.72L437 938.58L439 938.38L441 938.12L443 937.83L445 937.51L447 937.18L449 936.87L451 936.59L453 936.35L455 936.16L457 936.05L459 936L461 936L463 936.02L463.5 936.03" fill="none" stroke="#fff" stroke-width="2.2"/>
<path d="M11 937.92L13 937.95L15 937.98L17 938.02L19 938.06L21 938.11L23 938.14L25 938.17L27 938.19L29 938.2L31 938.2L33 938.23L35 938.27L37 938.33L39 938.4L41 938.49L43 938.58L45 938.68L47 938.78L49 938.87L51 938.96L53 939.04L55 939.11L57 939.16L59 939.19L61 939.2L63 939.33L65 939.75L67 940.26L69 940.62L71 940.7L73 940.63L75 940.5L77 940.3L79 940.05L81 939.76L83 939.44L85 939.12L87 938.8L89 938.52L91 938.27L93 938.08L95 937.96L97 937.9L99 937.9L101 937.92L103 937.94L105 937.98L107 938.01L109 938.06L111 938.1L113 938.13L115 938.16L117 938.19L119 938.2L121 938.2L123 938.22L125 938.26L127 938.31L129 938.38L131 938.47L133 938.56L135 938.66L137 938.76L139 938.85L141 938.94L143 939.02L145 939.09L147 939.15L149 939.18L151 939.2L153 939.27L155 939.64L157 940.15L159 940.57L161 940.7L163 940.65L165 940.53L167 940.35L169 940.11L171 939.82L173 939.51L175 939.19L177 938.87L179 938.58L181 938.32L183 938.12L185 937.98L187 937.91L189 937.9L191 937.91L193 937.94L195 937.97L197 938.01L199 938.05L201 938.09L203 938.13L205 938.16L207 938.18L209 938.2L211 938.2L213 938.22L215 938.25L217 938.3L219 938.37L221 938.45L223 938.54L225 938.63L227 938.73L229 938.83L231 938.92L233 939.01L235 939.08L237 939.14L239 939.18L241 939.2L243 939.23L245 939.54L247 940.03L249 940.49L251 940.7L253 940.67L255 940.57L257 940.4L259 940.17L261 939.89L263 939.58L265 939.26L267 938.94L269 938.64L271 938.38L273 938.16L275 938L277 937.92L279 937.9L281 937.91L283 937.93L285 937.96L287 938L289 938.04L291 938.08L293 938.12L295 938.15L297 938.18L299 938.19L301 938.2L303 938.21L305 938.24L307 938.29L309 938.35L311 938.43L313 938.52L315 938.61L317 938.71L319 938.81L321 938.9L323 938.99L325 939.06L327 939.12L329 939.17L331 939.19L333 939.21L335 939.44L337 939.92L339 940.4L341 940.68L343 940.68L345 940.6L347 940.44L349 940.22L351 939.96L353 939.66L355 939.34L357 939.01L359 938.71L361 938.43L363 938.2L365 938.03L367 937.93L369 937.9L371 937.91L373 937.92L375 937.95L377 937.99L379 938.03L381 938.07L383 938.11L385 938.14L387 938.17L389 938.19L391 938.2L393 938.21L395 938.23L397 938.28L399 938.34L401 938.41L403 938.5L405 938.59L407 938.69L409 938.79L411 938.88L413 938.97L415 939.05L417 939.11L419 939.16L421 939.19L423 939.2L425 939.36L427 939.8L429 940.31L431 940.65L433 940.69L435 940.62L437 940.48L439 940.28L441 940.02L443 939.73L445 939.41L447 939.08L449 938.77L451 938.49L453 938.25L455 938.06L457 937.95L459 937.9L461 937.9L463 937.92L463.5 937.93" fill="none" stroke="#d8d8d8" stroke-width="1.4" opacity="0.8"/>
<line x1="12" y1="840.8" x2="462.4" y2="840.8" stroke="#dedede" stroke-width="1.5"/>
<rect x="445" y="835" width="17.4" height="15.2" fill="#3c3c3c"/>
<path d="M448.4 839.6L454.3 845.9" stroke="#fff" stroke-width="1.7" fill="none"/>
<circle cx="448.4" cy="839.6" r="2.1" fill="#fff"/><circle cx="454.3" cy="845.9" r="2.1" fill="#fff"/><circle cx="460.6" cy="839.6" r="1.9" fill="#fff"/>
</g>
<rect x="474.1" y="831.8" width="456.9" height="156.5" fill="#000"/>
<g clip-path="url(#cN)">
<g filter="url(#usN)">
<rect x="477.4" y="835" width="450.3" height="150.4" fill="url(#gN)"/>
<path d="M476.5 866.85L478 866.59L479.5 866.39L481 866.26L482.5 866.2L484 866.21L485.5 866.28L487 866.41L488.5 866.59L490 866.83L491.5 867.12L493 867.46L494.5 867.84L496 868.25L497.5 868.7L499 869.17L500.5 869.65L502 870.15L503.5 870.64L505 871.13L506.5 871.61L508 872.07L509.5 872.51L511 872.91L512.5 873.27L514 873.59L515.5 873.86L517 874.08L518.5 874.25L520 874.35L521.5 874.4L523 874.38L524.5 874.29L526 874.14L527.5 873.92L529 873.63L530.5 873.29L532 872.9L533.5 872.46L535 871.99L536.5 871.48L538 870.96L539.5 870.42L541 869.88L542.5 869.35L544 868.84L545.5 868.35L547 867.89L548.5 867.48L550 867.12L551.5 866.8L553 866.55L554.5 866.37L556 866.25L557.5 866.2L559 866.22L560.5 866.3L562 866.44L563.5 866.63L565 866.88L566.5 867.18L568 867.52L569.5 867.91L571 868.33L572.5 868.78L574 869.25L575.5 869.73L577 870.23L578.5 870.73L580 871.22L581.5 871.69L583 872.15L584.5 872.58L586 872.97L587.5 873.33L589 873.64L590.5 873.9L592 874.11L593.5 874.27L595 874.36L596.5 874.4L598 874.37L599.5 874.27L601 874.11L602.5 873.87L604 873.58L605.5 873.23L607 872.83L608.5 872.38L610 871.9L611.5 871.4L613 870.87L614.5 870.33L616 869.8L617.5 869.27L619 868.76L620.5 868.27L622 867.82L623.5 867.42L625 867.06L626.5 866.76L628 866.52L629.5 866.34L631 866.24L632.5 866.2L634 866.23L635.5 866.32L637 866.46L638.5 866.67L640 866.92L641.5 867.23L643 867.58L644.5 867.97L646 868.4L647.5 868.85L649 869.33L650.5 869.82L652 870.31L653.5 870.81L655 871.3L656.5 871.77L658 872.22L659.5 872.65L661 873.03L662.5 873.38L664 873.69L665.5 873.94L667 874.14L668.5 874.29L670 874.37L671.5 874.4L673 874.36L674.5 874.25L676 874.07L677.5 873.83L679 873.53L680.5 873.17L682 872.76L683.5 872.31L685 871.82L686.5 871.31L688 870.78L689.5 870.24L691 869.71L692.5 869.18L694 868.67L695.5 868.19L697 867.75L698.5 867.35L700 867.01L701.5 866.71L703 866.48L704.5 866.32L706 866.23L707.5 866.2L709 866.24L710.5 866.34L712 866.49L713.5 866.71L715 866.97L716.5 867.29L718 867.65L719.5 868.04L721 868.47L722.5 868.93L724 869.41L725.5 869.9L727 870.39L728.5 870.89L730 871.38L731.5 871.85L733 872.29L734.5 872.71L736 873.1L737.5 873.44L739 873.73L740.5 873.98L742 874.17L743.5 874.31L745 874.38L746.5 874.4L748 874.35L749.5 874.22L751 874.04L752.5 873.78L754 873.47L755.5 873.1L757 872.68L758.5 872.23L760 871.74L761.5 871.22L763 870.69L764.5 870.15L766 869.62L767.5 869.09L769 868.59L770.5 868.12L772 867.68L773.5 867.29L775 866.95L776.5 866.67L778 866.45L779.5 866.3L781 866.22L782.5 866.2L784 866.25L785.5 866.36L787 866.53L788.5 866.75L790 867.02L791.5 867.34L793 867.71L794.5 868.11L796 868.55L797.5 869.01L799 869.49L800.5 869.98L802 870.48L803.5 870.97L805 871.46L806.5 871.92L808 872.37L809.5 872.78L811 873.16L812.5 873.49L814 873.78L815.5 874.02L817 874.2L818.5 874.32L820 874.39L821.5 874.39L823 874.33L824.5 874.2L826 874L827.5 873.73L829 873.41L830.5 873.03L832 872.61L833.5 872.15L835 871.65L836.5 871.13L838 870.6L839.5 870.06L841 869.53L842.5 869.01L844 868.51L845.5 868.04L847 867.61L848.5 867.23L850 866.9L851.5 866.63L853 866.42L854.5 866.28L856 866.21L857.5 866.21L859 866.27L860.5 866.38L862 866.56L863.5 866.79L865 867.07L866.5 867.4L868 867.77L869.5 868.18L871 868.62L872.5 869.09L874 869.57L875.5 870.06L877 870.56L878.5 871.05L880 871.53L881.5 872L883 872.44L884.5 872.84L886 873.21L887.5 873.54L889 873.82L890.5 874.05L892 874.22L893.5 874.34L895 874.39L896.5 874.39L898 874.31L899.5 874.17L901 873.96L902.5 873.68L904 873.35L905.5 872.97L907 872.54L908.5 872.07L910 871.57L911.5 871.05L913 870.51L914.5 869.97L916 869.44L917.5 868.92L919 868.43L920.5 867.97L922 867.55L923.5 867.17L925 866.85L926.5 866.59L928 866.39L928.5 866.34L928.5 926.3L928 926.3L926.5 926.19L925 925.83L923.5 925.24L922 924.44L920.5 923.45L919 922.3L917.5 921.03L916 919.69L914.5 918.3L913 916.93L911.5 915.63L910 914.44L908.5 913.44L907 912.68L905.5 912.3L904 912.3L902.5 912.3L901 912.3L899.5 912.3L898 912.3L896.5 912.3L895 912.44L893.5 913.04L892 913.95L890.5 915.06L889 916.31L887.5 917.66L886 919.04L884.5 920.41L883 921.72L881.5 922.93L880 924L878.5 924.89L877 925.59L875.5 926.05L874 926.28L872.5 926.3L871 926.3L869.5 926.3L868 926.3L866.5 926.3L865 926.3L863.5 926.3L862 926.3L860.5 926.3L859 926.3L857.5 926.3L856 926.3L854.5 926.3L853 926.3L851.5 926.14L850 925.75L848.5 925.12L847 924.29L845.5 923.27L844 922.1L842.5 920.81L841 919.46L839.5 918.07L838 916.71L836.5 915.42L835 914.26L833.5 913.29L832 912.58L830.5 912.3L829 912.3L827.5 912.3L826 912.3L824.5 912.3L823 912.3L821.5 912.3L820 912.51L818.5 913.18L817 914.12L815.5 915.26L814 916.53L812.5 917.89L811 919.27L809.5 920.64L808 921.93L806.5 923.12L805 924.16L803.5 925.02L802 925.68L800.5 926.11L799 926.29L797.5 926.3L796 926.3L794.5 926.3L793 926.3L791.5 926.3L790 926.3L788.5 926.3L787 926.3L785.5 926.3L784 926.3L782.5 926.3L781 926.3L779.5 926.3L778 926.29L776.5 926.1L775 925.66L773.5 925L772 924.13L770.5 923.08L769 921.89L767.5 920.59L766 919.23L764.5 917.84L763 916.49L761.5 915.22L760 914.08L758.5 913.15L757 912.5L755.5 912.3L754 912.3L752.5 912.3L751 912.3L749.5 912.3L748 912.3L746.5 912.3L745 912.6L743.5 913.32L742 914.3L740.5 915.46L739 916.75L737.5 918.12L736 919.5L734.5 920.86L733 922.14L731.5 923.31L730 924.32L728.5 925.15L727 925.77L725.5 926.15L724 926.3L722.5 926.3L721 926.3L719.5 926.3L718 926.3L716.5 926.3L715 926.3L713.5 926.3L712 926.3L710.5 926.3L709 926.3L707.5 926.3L706 926.3L704.5 926.3L703 926.27L701.5 926.04L700 925.57L698.5 924.87L697 923.97L695.5 922.89L694 921.68L692.5 920.37L691 918.99L689.5 917.61L688 916.27L686.5 915.02L685 913.91L683.5 913.02L682 912.42L680.5 912.3L679 912.3L677.5 912.3L676 912.3L674.5 912.3L673 912.3L671.5 912.3L670 912.7L668.5 913.47L667 914.48L665.5 915.67L664 916.98L662.5 918.35L661 919.73L659.5 921.08L658 922.34L656.5 923.49L655 924.47L653.5 925.27L652 925.85L650.5 926.2L649 926.3L647.5 926.3L646 926.3L644.5 926.3L643 926.3L641.5 926.3L640 926.3L638.5 926.3L637 926.3L635.5 926.3L634 926.3L632.5 926.3L631 926.3L629.5 926.3L628 926.25L626.5 925.98L625 925.46L623.5 924.73L622 923.8L620.5 922.7L619 921.47L617.5 920.14L616 918.76L614.5 917.38L613 916.05L611.5 914.82L610 913.75L608.5 912.9L607 912.36L605.5 912.3L604 912.3L602.5 912.3L601 912.3L599.5 912.3L598 912.3L596.5 912.33L595 912.8L593.5 913.62L592 914.67L590.5 915.88L589 917.2L587.5 918.58L586 919.96L584.5 921.3L583 922.54L581.5 923.66L580 924.62L578.5 925.38L577 925.92L575.5 926.23L574 926.3L572.5 926.3L571 926.3L569.5 926.3L568 926.3L566.5 926.3L565 926.3L563.5 926.3L562 926.3L560.5 926.3L559 926.3L557.5 926.3L556 926.3L554.5 926.3L553 926.22L551.5 925.91L550 925.36L548.5 924.59L547 923.63L545.5 922.5L544 921.25L542.5 919.91L541 918.53L539.5 917.16L538 915.84L536.5 914.63L535 913.59L533.5 912.78L532 912.32L530.5 912.3L529 912.3L527.5 912.3L526 912.3L524.5 912.3L523 912.3L521.5 912.37L520 912.92L518.5 913.78L517 914.86L515.5 916.1L514 917.43L512.5 918.81L511 920.19L509.5 921.51L508 922.74L506.5 923.83L505 924.76L503.5 925.49L502 925.99L500.5 926.26L499 926.3L497.5 926.3L496 926.3L494.5 926.3L493 926.3L491.5 926.3L490 926.3L488.5 926.3L487 926.3L485.5 926.3L484 926.3L482.5 926.3L481 926.3L479.5 926.3L478 926.19L476.5 925.83Z" fill="#0a0a0a"/>
<path d="M476.5 925.83L478 926.19L479.5 926.3L481 926.3L482.5 926.3L484 926.3L485.5 926.3L487 926.3L488.5 926.3L490 926.3L491.5 926.3L493 926.3L494.5 926.3L496 926.3L497.5 926.3L499 926.3L500.5 926.26L502 925.99L503.5 925.49L505 924.76L506.5 923.83L508 922.74L509.5 921.51L511 920.19L512.5 918.81L514 917.43L515.5 916.1L517 914.86L518.5 913.78L520 912.92L521.5 912.37L523 912.3L524.5 912.3L526 912.3L527.5 912.3L529 912.3L530.5 912.3L532 912.32L533.5 912.78L535 913.59L536.5 914.63L538 915.84L539.5 917.16L541 918.53L542.5 919.91L544 921.25L545.5 922.5L547 923.63L548.5 924.59L550 925.36L551.5 925.91L553 926.22L554.5 926.3L556 926.3L557.5 926.3L559 926.3L560.5 926.3L562 926.3L563.5 926.3L565 926.3L566.5 926.3L568 926.3L569.5 926.3L571 926.3L572.5 926.3L574 926.3L575.5 926.23L577 925.92L578.5 925.38L580 924.62L581.5 923.66L583 922.54L584.5 921.3L586 919.96L587.5 918.58L589 917.2L590.5 915.88L592 914.67L593.5 913.62L595 912.8L596.5 912.33L598 912.3L599.5 912.3L601 912.3L602.5 912.3L604 912.3L605.5 912.3L607 912.36L608.5 912.9L610 913.75L611.5 914.82L613 916.05L614.5 917.38L616 918.76L617.5 920.14L619 921.47L620.5 922.7L622 923.8L623.5 924.73L625 925.46L626.5 925.98L628 926.25L629.5 926.3L631 926.3L632.5 926.3L634 926.3L635.5 926.3L637 926.3L638.5 926.3L640 926.3L641.5 926.3L643 926.3L644.5 926.3L646 926.3L647.5 926.3L649 926.3L650.5 926.2L652 925.85L653.5 925.27L655 924.47L656.5 923.49L658 922.34L659.5 921.08L661 919.73L662.5 918.35L664 916.98L665.5 915.67L667 914.48L668.5 913.47L670 912.7L671.5 912.3L673 912.3L674.5 912.3L676 912.3L677.5 912.3L679 912.3L680.5 912.3L682 912.42L683.5 913.02L685 913.91L686.5 915.02L688 916.27L689.5 917.61L691 918.99L692.5 920.37L694 921.68L695.5 922.89L697 923.97L698.5 924.87L700 925.57L701.5 926.04L703 926.27L704.5 926.3L706 926.3L707.5 926.3L709 926.3L710.5 926.3L712 926.3L713.5 926.3L715 926.3L716.5 926.3L718 926.3L719.5 926.3L721 926.3L722.5 926.3L724 926.3L725.5 926.15L727 925.77L728.5 925.15L730 924.32L731.5 923.31L733 922.14L734.5 920.86L736 919.5L737.5 918.12L739 916.75L740.5 915.46L742 914.3L743.5 913.32L745 912.6L746.5 912.3L748 912.3L749.5 912.3L751 912.3L752.5 912.3L754 912.3L755.5 912.3L757 912.5L758.5 913.15L760 914.08L761.5 915.22L763 916.49L764.5 917.84L766 919.23L767.5 920.59L769 921.89L770.5 923.08L772 924.13L773.5 925L775 925.66L776.5 926.1L778 926.29L779.5 926.3L781 926.3L782.5 926.3L784 926.3L785.5 926.3L787 926.3L788.5 926.3L790 926.3L791.5 926.3L793 926.3L794.5 926.3L796 926.3L797.5 926.3L799 926.29L800.5 926.11L802 925.68L803.5 925.02L805 924.16L806.5 923.12L808 921.93L809.5 920.64L811 919.27L812.5 917.89L814 916.53L815.5 915.26L817 914.12L818.5 913.18L820 912.51L821.5 912.3L823 912.3L824.5 912.3L826 912.3L827.5 912.3L829 912.3L830.5 912.3L832 912.58L833.5 913.29L835 914.26L836.5 915.42L838 916.71L839.5 918.07L841 919.46L842.5 920.81L844 922.1L845.5 923.27L847 924.29L848.5 925.12L850 925.75L851.5 926.14L853 926.3L854.5 926.3L856 926.3L857.5 926.3L859 926.3L860.5 926.3L862 926.3L863.5 926.3L865 926.3L866.5 926.3L868 926.3L869.5 926.3L871 926.3L872.5 926.3L874 926.28L875.5 926.05L877 925.59L878.5 924.89L880 924L881.5 922.93L883 921.72L884.5 920.41L886 919.04L887.5 917.66L889 916.31L890.5 915.06L892 913.95L893.5 913.04L895 912.44L896.5 912.3L898 912.3L899.5 912.3L901 912.3L902.5 912.3L904 912.3L905.5 912.3L907 912.68L908.5 913.44L910 914.44L911.5 915.63L913 916.93L914.5 918.3L916 919.69L917.5 921.03L919 922.3L920.5 923.45L922 924.44L923.5 925.24L925 925.83L926.5 926.19L928 926.3L928.5 926.3L928.5 934.55L928 934.46L926.5 934.19L925 933.88L923.5 933.56L922 933.22L920.5 932.87L919 932.52L917.5 932.17L916 931.82L914.5 931.49L913 931.18L911.5 930.89L910 930.62L908.5 930.39L907 930.19L905.5 930.03L904 929.91L902.5 929.83L901 929.8L899.5 929.81L898 929.87L896.5 929.97L895 930.11L893.5 930.29L892 930.51L890.5 930.76L889 931.04L887.5 931.34L886 931.67L884.5 932.01L883 932.36L881.5 932.71L880 933.06L878.5 933.4L877 933.73L875.5 934.05L874 934.34L872.5 934.6L871 934.83L869.5 935.03L868 935.18L866.5 935.3L865 935.37L863.5 935.4L862 935.38L860.5 935.32L859 935.22L857.5 935.08L856 934.89L854.5 934.67L853 934.42L851.5 934.14L850 933.83L848.5 933.5L847 933.16L845.5 932.81L844 932.46L842.5 932.11L841 931.77L839.5 931.44L838 931.13L836.5 930.84L835 930.58L833.5 930.35L832 930.16L830.5 930.01L829 929.89L827.5 929.83L826 929.8L824.5 929.82L823 929.88L821.5 929.99L820 930.14L818.5 930.32L817 930.55L815.5 930.8L814 931.09L812.5 931.4L811 931.72L809.5 932.06L808 932.41L806.5 932.77L805 933.12L803.5 933.46L802 933.79L800.5 934.1L799 934.38L797.5 934.64L796 934.87L794.5 935.05L793 935.2L791.5 935.31L790 935.38L788.5 935.4L787 935.38L785.5 935.31L784 935.2L782.5 935.05L781 934.86L779.5 934.63L778 934.37L776.5 934.09L775 933.78L773.5 933.45L772 933.11L770.5 932.76L769 932.4L767.5 932.05L766 931.71L764.5 931.39L763 931.08L761.5 930.79L760 930.54L758.5 930.32L757 930.13L755.5 929.99L754 929.88L752.5 929.82L751 929.8L749.5 929.83L748 929.9L746.5 930.01L745 930.17L743.5 930.36L742 930.59L740.5 930.85L739 931.14L737.5 931.45L736 931.78L734.5 932.12L733 932.47L731.5 932.83L730 933.18L728.5 933.52L727 933.84L725.5 934.15L724 934.43L722.5 934.68L721 934.9L719.5 935.08L718 935.23L716.5 935.33L715 935.39L713.5 935.4L712 935.37L710.5 935.29L709 935.18L707.5 935.02L706 934.82L704.5 934.59L703 934.33L701.5 934.04L700 933.72L698.5 933.39L697 933.05L695.5 932.7L694 932.34L692.5 932L691 931.66L689.5 931.33L688 931.03L686.5 930.75L685 930.5L683.5 930.28L682 930.1L680.5 929.96L679 929.87L677.5 929.81L676 929.8L674.5 929.84L673 929.91L671.5 930.03L670 930.2L668.5 930.39L667 930.63L665.5 930.9L664 931.19L662.5 931.5L661 931.84L659.5 932.18L658 932.53L656.5 932.88L655 933.23L653.5 933.57L652 933.89L650.5 934.2L649 934.47L647.5 934.72L646 934.93L644.5 935.11L643 935.25L641.5 935.34L640 935.39L638.5 935.4L637 935.36L635.5 935.28L634 935.15L632.5 934.99L631 934.79L629.5 934.55L628 934.28L626.5 933.99L625 933.67L623.5 933.34L622 932.99L620.5 932.64L619 932.29L617.5 931.94L616 931.6L614.5 931.28L613 930.98L611.5 930.71L610 930.46L608.5 930.25L607 930.08L605.5 929.95L604 929.85L602.5 929.81L601 929.8L599.5 929.85L598 929.93L596.5 930.06L595 930.23L593.5 930.43L592 930.67L590.5 930.94L589 931.24L587.5 931.56L586 931.89L584.5 932.24L583 932.59L581.5 932.94L580 933.29L578.5 933.63L577 933.95L575.5 934.24L574 934.52L572.5 934.76L571 934.96L569.5 935.13L568 935.26L566.5 935.35L565 935.39L563.5 935.39L562 935.35L560.5 935.26L559 935.13L557.5 934.96L556 934.75L554.5 934.51L553 934.23L551.5 933.93L550 933.61L548.5 933.28L547 932.93L545.5 932.58L544 932.23L542.5 931.88L541 931.55L539.5 931.23L538 930.93L536.5 930.66L535 930.42L533.5 930.22L532 930.05L530.5 929.93L529 929.84L527.5 929.8L526 929.81L524.5 929.86L523 929.95L521.5 930.08L520 930.26L518.5 930.47L517 930.71L515.5 930.99L514 931.29L512.5 931.61L511 931.95L509.5 932.3L508 932.65L506.5 933L505 933.35L503.5 933.68L502 934L500.5 934.29L499 934.56L497.5 934.79L496 935L494.5 935.16L493 935.28L491.5 935.36L490 935.4L488.5 935.39L487 935.34L485.5 935.24L484 935.1L482.5 934.93L481 934.71L479.5 934.46L478 934.19L476.5 933.88Z" fill="#383838"/>
<path d="M476.5 866.85L478 866.59L479.5 866.39L481 866.26L482.5 866.2L484 866.21L485.5 866.28L487 866.41L488.5 866.59L490 866.83L491.5 867.12L493 867.46L494.5 867.84L496 868.25L497.5 868.7L499 869.17L500.5 869.65L502 870.15L503.5 870.64L505 871.13L506.5 871.61L508 872.07L509.5 872.51L511 872.91L512.5 873.27L514 873.59L515.5 873.86L517 874.08L518.5 874.25L520 874.35L521.5 874.4L523 874.38L524.5 874.29L526 874.14L527.5 873.92L529 873.63L530.5 873.29L532 872.9L533.5 872.46L535 871.99L536.5 871.48L538 870.96L539.5 870.42L541 869.88L542.5 869.35L544 868.84L545.5 868.35L547 867.89L548.5 867.48L550 867.12L551.5 866.8L553 866.55L554.5 866.37L556 866.25L557.5 866.2L559 866.22L560.5 866.3L562 866.44L563.5 866.63L565 866.88L566.5 867.18L568 867.52L569.5 867.91L571 868.33L572.5 868.78L574 869.25L575.5 869.73L577 870.23L578.5 870.73L580 871.22L581.5 871.69L583 872.15L584.5 872.58L586 872.97L587.5 873.33L589 873.64L590.5 873.9L592 874.11L593.5 874.27L595 874.36L596.5 874.4L598 874.37L599.5 874.27L601 874.11L602.5 873.87L604 873.58L605.5 873.23L607 872.83L608.5 872.38L610 871.9L611.5 871.4L613 870.87L614.5 870.33L616 869.8L617.5 869.27L619 868.76L620.5 868.27L622 867.82L623.5 867.42L625 867.06L626.5 866.76L628 866.52L629.5 866.34L631 866.24L632.5 866.2L634 866.23L635.5 866.32L637 866.46L638.5 866.67L640 866.92L641.5 867.23L643 867.58L644.5 867.97L646 868.4L647.5 868.85L649 869.33L650.5 869.82L652 870.31L653.5 870.81L655 871.3L656.5 871.77L658 872.22L659.5 872.65L661 873.03L662.5 873.38L664 873.69L665.5 873.94L667 874.14L668.5 874.29L670 874.37L671.5 874.4L673 874.36L674.5 874.25L676 874.07L677.5 873.83L679 873.53L680.5 873.17L682 872.76L683.5 872.31L685 871.82L686.5 871.31L688 870.78L689.5 870.24L691 869.71L692.5 869.18L694 868.67L695.5 868.19L697 867.75L698.5 867.35L700 867.01L701.5 866.71L703 866.48L704.5 866.32L706 866.23L707.5 866.2L709 866.24L710.5 866.34L712 866.49L713.5 866.71L715 866.97L716.5 867.29L718 867.65L719.5 868.04L721 868.47L722.5 868.93L724 869.41L725.5 869.9L727 870.39L728.5 870.89L730 871.38L731.5 871.85L733 872.29L734.5 872.71L736 873.1L737.5 873.44L739 873.73L740.5 873.98L742 874.17L743.5 874.31L745 874.38L746.5 874.4L748 874.35L749.5 874.22L751 874.04L752.5 873.78L754 873.47L755.5 873.1L757 872.68L758.5 872.23L760 871.74L761.5 871.22L763 870.69L764.5 870.15L766 869.62L767.5 869.09L769 868.59L770.5 868.12L772 867.68L773.5 867.29L775 866.95L776.5 866.67L778 866.45L779.5 866.3L781 866.22L782.5 866.2L784 866.25L785.5 866.36L787 866.53L788.5 866.75L790 867.02L791.5 867.34L793 867.71L794.5 868.11L796 868.55L797.5 869.01L799 869.49L800.5 869.98L802 870.48L803.5 870.97L805 871.46L806.5 871.92L808 872.37L809.5 872.78L811 873.16L812.5 873.49L814 873.78L815.5 874.02L817 874.2L818.5 874.32L820 874.39L821.5 874.39L823 874.33L824.5 874.2L826 874L827.5 873.73L829 873.41L830.5 873.03L832 872.61L833.5 872.15L835 871.65L836.5 871.13L838 870.6L839.5 870.06L841 869.53L842.5 869.01L844 868.51L845.5 868.04L847 867.61L848.5 867.23L850 866.9L851.5 866.63L853 866.42L854.5 866.28L856 866.21L857.5 866.21L859 866.27L860.5 866.38L862 866.56L863.5 866.79L865 867.07L866.5 867.4L868 867.77L869.5 868.18L871 868.62L872.5 869.09L874 869.57L875.5 870.06L877 870.56L878.5 871.05L880 871.53L881.5 872L883 872.44L884.5 872.84L886 873.21L887.5 873.54L889 873.82L890.5 874.05L892 874.22L893.5 874.34L895 874.39L896.5 874.39L898 874.31L899.5 874.17L901 873.96L902.5 873.68L904 873.35L905.5 872.97L907 872.54L908.5 872.07L910 871.57L911.5 871.05L913 870.51L914.5 869.97L916 869.44L917.5 868.92L919 868.43L920.5 867.97L922 867.55L923.5 867.17L925 866.85L926.5 866.59L928 866.39L928.5 866.34" fill="none" stroke="#5a5a5a" stroke-width="1.3"/>
<path d="M476.5 925.83L478 926.19L479.5 926.3L481 926.3L482.5 926.3L484 926.3L485.5 926.3L487 926.3L488.5 926.3L490 926.3L491.5 926.3L493 926.3L494.5 926.3L496 926.3L497.5 926.3L499 926.3L500.5 926.26L502 925.99L503.5 925.49L505 924.76L506.5 923.83L508 922.74L509.5 921.51L511 920.19L512.5 918.81L514 917.43L515.5 916.1L517 914.86L518.5 913.78L520 912.92L521.5 912.37L523 912.3L524.5 912.3L526 912.3L527.5 912.3L529 912.3L530.5 912.3L532 912.32L533.5 912.78L535 913.59L536.5 914.63L538 915.84L539.5 917.16L541 918.53L542.5 919.91L544 921.25L545.5 922.5L547 923.63L548.5 924.59L550 925.36L551.5 925.91L553 926.22L554.5 926.3L556 926.3L557.5 926.3L559 926.3L560.5 926.3L562 926.3L563.5 926.3L565 926.3L566.5 926.3L568 926.3L569.5 926.3L571 926.3L572.5 926.3L574 926.3L575.5 926.23L577 925.92L578.5 925.38L580 924.62L581.5 923.66L583 922.54L584.5 921.3L586 919.96L587.5 918.58L589 917.2L590.5 915.88L592 914.67L593.5 913.62L595 912.8L596.5 912.33L598 912.3L599.5 912.3L601 912.3L602.5 912.3L604 912.3L605.5 912.3L607 912.36L608.5 912.9L610 913.75L611.5 914.82L613 916.05L614.5 917.38L616 918.76L617.5 920.14L619 921.47L620.5 922.7L622 923.8L623.5 924.73L625 925.46L626.5 925.98L628 926.25L629.5 926.3L631 926.3L632.5 926.3L634 926.3L635.5 926.3L637 926.3L638.5 926.3L640 926.3L641.5 926.3L643 926.3L644.5 926.3L646 926.3L647.5 926.3L649 926.3L650.5 926.2L652 925.85L653.5 925.27L655 924.47L656.5 923.49L658 922.34L659.5 921.08L661 919.73L662.5 918.35L664 916.98L665.5 915.67L667 914.48L668.5 913.47L670 912.7L671.5 912.3L673 912.3L674.5 912.3L676 912.3L677.5 912.3L679 912.3L680.5 912.3L682 912.42L683.5 913.02L685 913.91L686.5 915.02L688 916.27L689.5 917.61L691 918.99L692.5 920.37L694 921.68L695.5 922.89L697 923.97L698.5 924.87L700 925.57L701.5 926.04L703 926.27L704.5 926.3L706 926.3L707.5 926.3L709 926.3L710.5 926.3L712 926.3L713.5 926.3L715 926.3L716.5 926.3L718 926.3L719.5 926.3L721 926.3L722.5 926.3L724 926.3L725.5 926.15L727 925.77L728.5 925.15L730 924.32L731.5 923.31L733 922.14L734.5 920.86L736 919.5L737.5 918.12L739 916.75L740.5 915.46L742 914.3L743.5 913.32L745 912.6L746.5 912.3L748 912.3L749.5 912.3L751 912.3L752.5 912.3L754 912.3L755.5 912.3L757 912.5L758.5 913.15L760 914.08L761.5 915.22L763 916.49L764.5 917.84L766 919.23L767.5 920.59L769 921.89L770.5 923.08L772 924.13L773.5 925L775 925.66L776.5 926.1L778 926.29L779.5 926.3L781 926.3L782.5 926.3L784 926.3L785.5 926.3L787 926.3L788.5 926.3L790 926.3L791.5 926.3L793 926.3L794.5 926.3L796 926.3L797.5 926.3L799 926.29L800.5 926.11L802 925.68L803.5 925.02L805 924.16L806.5 923.12L808 921.93L809.5 920.64L811 919.27L812.5 917.89L814 916.53L815.5 915.26L817 914.12L818.5 913.18L820 912.51L821.5 912.3L823 912.3L824.5 912.3L826 912.3L827.5 912.3L829 912.3L830.5 912.3L832 912.58L833.5 913.29L835 914.26L836.5 915.42L838 916.71L839.5 918.07L841 919.46L842.5 920.81L844 922.1L845.5 923.27L847 924.29L848.5 925.12L850 925.75L851.5 926.14L853 926.3L854.5 926.3L856 926.3L857.5 926.3L859 926.3L860.5 926.3L862 926.3L863.5 926.3L865 926.3L866.5 926.3L868 926.3L869.5 926.3L871 926.3L872.5 926.3L874 926.28L875.5 926.05L877 925.59L878.5 924.89L880 924L881.5 922.93L883 921.72L884.5 920.41L886 919.04L887.5 917.66L889 916.31L890.5 915.06L892 913.95L893.5 913.04L895 912.44L896.5 912.3L898 912.3L899.5 912.3L901 912.3L902.5 912.3L904 912.3L905.5 912.3L907 912.68L908.5 913.44L910 914.44L911.5 915.63L913 916.93L914.5 918.3L916 919.69L917.5 921.03L919 922.3L920.5 923.45L922 924.44L923.5 925.24L925 925.83L926.5 926.19L928 926.3L928.5 926.3" fill="none" stroke="#707070" stroke-width="1.5"/>
<path d="M476.5 929.83L478 930.19L479.5 930.3L481 930.3L482.5 930.3L484 930.3L485.5 930.3L487 930.3L488.5 930.3L490 930.3L491.5 930.3L493 930.3L494.5 930.3L496 930.3L497.5 930.3L499 930.3L500.5 930.26L502 929.99L503.5 929.49L505 928.76L506.5 927.83L508 926.74L509.5 925.51L511 924.19L512.5 922.81L514 921.43L515.5 920.1L517 918.86L518.5 917.78L520 916.92L521.5 916.37L523 916.3L524.5 916.3L526 916.3L527.5 916.3L529 916.3L530.5 916.3L532 916.32L533.5 916.78L535 917.59L536.5 918.63L538 919.84L539.5 921.16L541 922.53L542.5 923.91L544 925.25L545.5 926.5L547 927.63L548.5 928.59L550 929.36L551.5 929.91L553 930.22L554.5 930.3L556 930.3L557.5 930.3L559 930.3L560.5 930.3L562 930.3L563.5 930.3L565 930.3L566.5 930.3L568 930.3L569.5 930.3L571 930.3L572.5 930.3L574 930.3L575.5 930.23L577 929.92L578.5 929.38L580 928.62L581.5 927.66L583 926.54L584.5 925.3L586 923.96L587.5 922.58L589 921.2L590.5 919.88L592 918.67L593.5 917.62L595 916.8L596.5 916.33L598 916.3L599.5 916.3L601 916.3L602.5 916.3L604 916.3L605.5 916.3L607 916.36L608.5 916.9L610 917.75L611.5 918.82L613 920.05L614.5 921.38L616 922.76L617.5 924.14L619 925.47L620.5 926.7L622 927.8L623.5 928.73L625 929.46L626.5 929.98L628 930.25L629.5 930.3L631 930.3L632.5 930.3L634 930.3L635.5 930.3L637 930.3L638.5 930.3L640 930.3L641.5 930.3L643 930.3L644.5 930.3L646 930.3L647.5 930.3L649 930.3L650.5 930.2L652 929.85L653.5 929.27L655 928.47L656.5 927.49L658 926.34L659.5 925.08L661 923.73L662.5 922.35L664 920.98L665.5 919.67L667 918.48L668.5 917.47L670 916.7L671.5 916.3L673 916.3L674.5 916.3L676 916.3L677.5 916.3L679 916.3L680.5 916.3L682 916.42L683.5 917.02L685 917.91L686.5 919.02L688 920.27L689.5 921.61L691 922.99L692.5 924.37L694 925.68L695.5 926.89L697 927.97L698.5 928.87L700 929.57L701.5 930.04L703 930.27L704.5 930.3L706 930.3L707.5 930.3L709 930.3L710.5 930.3L712 930.3L713.5 930.3L715 930.3L716.5 930.3L718 930.3L719.5 930.3L721 930.3L722.5 930.3L724 930.3L725.5 930.15L727 929.77L728.5 929.15L730 928.32L731.5 927.31L733 926.14L734.5 924.86L736 923.5L737.5 922.12L739 920.75L740.5 919.46L742 918.3L743.5 917.32L745 916.6L746.5 916.3L748 916.3L749.5 916.3L751 916.3L752.5 916.3L754 916.3L755.5 916.3L757 916.5L758.5 917.15L760 918.08L761.5 919.22L763 920.49L764.5 921.84L766 923.23L767.5 924.59L769 925.89L770.5 927.08L772 928.13L773.5 929L775 929.66L776.5 930.1L778 930.29L779.5 930.3L781 930.3L782.5 930.3L784 930.3L785.5 930.3L787 930.3L788.5 930.3L790 930.3L791.5 930.3L793 930.3L794.5 930.3L796 930.3L797.5 930.3L799 930.29L800.5 930.11L802 929.68L803.5 929.02L805 928.16L806.5 927.12L808 925.93L809.5 924.64L811 923.27L812.5 921.89L814 920.53L815.5 919.26L817 918.12L818.5 917.18L820 916.51L821.5 916.3L823 916.3L824.5 916.3L826 916.3L827.5 916.3L829 916.3L830.5 916.3L832 916.58L833.5 917.29L835 918.26L836.5 919.42L838 920.71L839.5 922.07L841 923.46L842.5 924.81L844 926.1L845.5 927.27L847 928.29L848.5 929.12L850 929.75L851.5 930.14L853 930.3L854.5 930.3L856 930.3L857.5 930.3L859 930.3L860.5 930.3L862 930.3L863.5 930.3L865 930.3L866.5 930.3L868 930.3L869.5 930.3L871 930.3L872.5 930.3L874 930.28L875.5 930.05L877 929.59L878.5 928.89L880 928L881.5 926.93L883 925.72L884.5 924.41L886 923.04L887.5 921.66L889 920.31L890.5 919.06L892 917.95L893.5 917.04L895 916.44L896.5 916.3L898 916.3L899.5 916.3L901 916.3L902.5 916.3L904 916.3L905.5 916.3L907 916.68L908.5 917.44L910 918.44L911.5 919.63L913 920.93L914.5 922.3L916 923.69L917.5 925.03L919 926.3L920.5 927.45L922 928.44L923.5 929.24L925 929.83L926.5 930.19L928 930.3L928.5 930.3" fill="none" stroke="#565656" stroke-width="1.1"/>
<path d="M476.5 932.28L478 932.59L479.5 932.86L481 933.11L482.5 933.33L484 933.5L485.5 933.64L487 933.74L488.5 933.79L490 933.8L491.5 933.76L493 933.68L494.5 933.56L496 933.4L497.5 933.19L499 932.96L500.5 932.69L502 932.4L503.5 932.08L505 931.75L506.5 931.4L508 931.05L509.5 930.7L511 930.35L512.5 930.01L514 929.69L515.5 929.39L517 929.11L518.5 928.87L520 928.66L521.5 928.48L523 928.35L524.5 928.26L526 928.21L527.5 928.2L529 928.24L530.5 928.33L532 928.45L533.5 928.62L535 928.82L536.5 929.06L538 929.33L539.5 929.63L541 929.95L542.5 930.28L544 930.63L545.5 930.98L547 931.33L548.5 931.68L550 932.01L551.5 932.33L553 932.63L554.5 932.91L556 933.15L557.5 933.36L559 933.53L560.5 933.66L562 933.75L563.5 933.79L565 933.79L566.5 933.75L568 933.66L569.5 933.53L571 933.36L572.5 933.16L574 932.92L575.5 932.64L577 932.35L578.5 932.03L580 931.69L581.5 931.34L583 930.99L584.5 930.64L586 930.29L587.5 929.96L589 929.64L590.5 929.34L592 929.07L593.5 928.83L595 928.63L596.5 928.46L598 928.33L599.5 928.25L601 928.2L602.5 928.21L604 928.25L605.5 928.35L607 928.48L608.5 928.65L610 928.86L611.5 929.11L613 929.38L614.5 929.68L616 930L617.5 930.34L619 930.69L620.5 931.04L622 931.39L623.5 931.74L625 932.07L626.5 932.39L628 932.68L629.5 932.95L631 933.19L632.5 933.39L634 933.55L635.5 933.68L637 933.76L638.5 933.8L640 933.79L641.5 933.74L643 933.65L644.5 933.51L646 933.33L647.5 933.12L649 932.87L650.5 932.6L652 932.29L653.5 931.97L655 931.63L656.5 931.28L658 930.93L659.5 930.58L661 930.24L662.5 929.9L664 929.59L665.5 929.3L667 929.03L668.5 928.79L670 928.6L671.5 928.43L673 928.31L674.5 928.24L676 928.2L677.5 928.21L679 928.27L680.5 928.36L682 928.5L683.5 928.68L685 928.9L686.5 929.15L688 929.43L689.5 929.73L691 930.06L692.5 930.4L694 930.74L695.5 931.1L697 931.45L698.5 931.79L700 932.12L701.5 932.44L703 932.73L704.5 932.99L706 933.22L707.5 933.42L709 933.58L710.5 933.69L712 933.77L713.5 933.8L715 933.79L716.5 933.73L718 933.63L719.5 933.48L721 933.3L722.5 933.08L724 932.83L725.5 932.55L727 932.24L728.5 931.92L730 931.58L731.5 931.23L733 930.87L734.5 930.52L736 930.18L737.5 929.85L739 929.54L740.5 929.25L742 928.99L743.5 928.76L745 928.57L746.5 928.41L748 928.3L749.5 928.23L751 928.2L752.5 928.22L754 928.28L755.5 928.39L757 928.53L758.5 928.72L760 928.94L761.5 929.19L763 929.48L764.5 929.79L766 930.11L767.5 930.45L769 930.8L770.5 931.16L772 931.51L773.5 931.85L775 932.18L776.5 932.49L778 932.77L779.5 933.03L781 933.26L782.5 933.45L784 933.6L785.5 933.71L787 933.78L788.5 933.8L790 933.78L791.5 933.71L793 933.6L794.5 933.45L796 933.27L797.5 933.04L799 932.78L800.5 932.5L802 932.19L803.5 931.86L805 931.52L806.5 931.17L808 930.81L809.5 930.46L811 930.12L812.5 929.8L814 929.49L815.5 929.2L817 928.95L818.5 928.72L820 928.54L821.5 928.39L823 928.28L824.5 928.22L826 928.2L827.5 928.23L829 928.29L830.5 928.41L832 928.56L833.5 928.75L835 928.98L836.5 929.24L838 929.53L839.5 929.84L841 930.17L842.5 930.51L844 930.86L845.5 931.21L847 931.56L848.5 931.9L850 932.23L851.5 932.54L853 932.82L854.5 933.07L856 933.29L857.5 933.48L859 933.62L860.5 933.72L862 933.78L863.5 933.8L865 933.77L866.5 933.7L868 933.58L869.5 933.43L871 933.23L872.5 933L874 932.74L875.5 932.45L877 932.13L878.5 931.8L880 931.46L881.5 931.11L883 930.76L884.5 930.41L886 930.07L887.5 929.74L889 929.44L890.5 929.16L892 928.91L893.5 928.69L895 928.51L896.5 928.37L898 928.27L899.5 928.21L901 928.2L902.5 928.23L904 928.31L905.5 928.43L907 928.59L908.5 928.79L910 929.02L911.5 929.29L913 929.58L914.5 929.89L916 930.22L917.5 930.57L919 930.92L920.5 931.27L922 931.62L923.5 931.96L925 932.28L926.5 932.59L928 932.86L928.5 932.95" fill="none" stroke="#1c1c1c" stroke-width="1.8"/>
</g>
<g mask="url(#mN)"><rect x="477.4" y="942" width="450.3" height="44" fill="#000" opacity="0.4" filter="url(#spN)"/></g>
<path d="M476.5 936.08L478 936.39L479.5 936.66L481 936.91L482.5 937.13L484 937.3L485.5 937.44L487 937.54L488.5 937.59L490 937.6L491.5 937.56L493 937.48L494.5 937.36L496 937.2L497.5 936.99L499 936.76L500.5 936.49L502 936.2L503.5 935.88L505 935.55L506.5 935.2L508 934.85L509.5 934.5L511 934.15L512.5 933.81L514 933.49L515.5 933.19L517 932.91L518.5 932.67L520 932.46L521.5 932.28L523 932.15L524.5 932.06L526 932.01L527.5 932L529 932.04L530.5 932.13L532 932.25L533.5 932.42L535 932.62L536.5 932.86L538 933.13L539.5 933.43L541 933.75L542.5 934.08L544 934.43L545.5 934.78L547 935.13L548.5 935.48L550 935.81L551.5 936.13L553 936.43L554.5 936.71L556 936.95L557.5 937.16L559 937.33L560.5 937.46L562 937.55L563.5 937.59L565 937.59L566.5 937.55L568 937.46L569.5 937.33L571 937.16L572.5 936.96L574 936.72L575.5 936.44L577 936.15L578.5 935.83L580 935.49L581.5 935.14L583 934.79L584.5 934.44L586 934.09L587.5 933.76L589 933.44L590.5 933.14L592 932.87L593.5 932.63L595 932.43L596.5 932.26L598 932.13L599.5 932.05L601 932L602.5 932.01L604 932.05L605.5 932.15L607 932.28L608.5 932.45L610 932.66L611.5 932.91L613 933.18L614.5 933.48L616 933.8L617.5 934.14L619 934.49L620.5 934.84L622 935.19L623.5 935.54L625 935.87L626.5 936.19L628 936.48L629.5 936.75L631 936.99L632.5 937.19L634 937.35L635.5 937.48L637 937.56L638.5 937.6L640 937.59L641.5 937.54L643 937.45L644.5 937.31L646 937.13L647.5 936.92L649 936.67L650.5 936.4L652 936.09L653.5 935.77L655 935.43L656.5 935.08L658 934.73L659.5 934.38L661 934.04L662.5 933.7L664 933.39L665.5 933.1L667 932.83L668.5 932.59L670 932.4L671.5 932.23L673 932.11L674.5 932.04L676 932L677.5 932.01L679 932.07L680.5 932.16L682 932.3L683.5 932.48L685 932.7L686.5 932.95L688 933.23L689.5 933.53L691 933.86L692.5 934.2L694 934.54L695.5 934.9L697 935.25L698.5 935.59L700 935.92L701.5 936.24L703 936.53L704.5 936.79L706 937.02L707.5 937.22L709 937.38L710.5 937.49L712 937.57L713.5 937.6L715 937.59L716.5 937.53L718 937.43L719.5 937.28L721 937.1L722.5 936.88L724 936.63L725.5 936.35L727 936.04L728.5 935.72L730 935.38L731.5 935.03L733 934.67L734.5 934.32L736 933.98L737.5 933.65L739 933.34L740.5 933.05L742 932.79L743.5 932.56L745 932.37L746.5 932.21L748 932.1L749.5 932.03L751 932L752.5 932.02L754 932.08L755.5 932.19L757 932.33L758.5 932.52L760 932.74L761.5 932.99L763 933.28L764.5 933.59L766 933.91L767.5 934.25L769 934.6L770.5 934.96L772 935.31L773.5 935.65L775 935.98L776.5 936.29L778 936.57L779.5 936.83L781 937.06L782.5 937.25L784 937.4L785.5 937.51L787 937.58L788.5 937.6L790 937.58L791.5 937.51L793 937.4L794.5 937.25L796 937.07L797.5 936.84L799 936.58L800.5 936.3L802 935.99L803.5 935.66L805 935.32L806.5 934.97L808 934.61L809.5 934.26L811 933.92L812.5 933.6L814 933.29L815.5 933L817 932.75L818.5 932.52L820 932.34L821.5 932.19L823 932.08L824.5 932.02L826 932L827.5 932.03L829 932.09L830.5 932.21L832 932.36L833.5 932.55L835 932.78L836.5 933.04L838 933.33L839.5 933.64L841 933.97L842.5 934.31L844 934.66L845.5 935.01L847 935.36L848.5 935.7L850 936.03L851.5 936.34L853 936.62L854.5 936.87L856 937.09L857.5 937.28L859 937.42L860.5 937.52L862 937.58L863.5 937.6L865 937.57L866.5 937.5L868 937.38L869.5 937.23L871 937.03L872.5 936.8L874 936.54L875.5 936.25L877 935.93L878.5 935.6L880 935.26L881.5 934.91L883 934.56L884.5 934.21L886 933.87L887.5 933.54L889 933.24L890.5 932.96L892 932.71L893.5 932.49L895 932.31L896.5 932.17L898 932.07L899.5 932.01L901 932L902.5 932.03L904 932.11L905.5 932.23L907 932.39L908.5 932.59L910 932.82L911.5 933.09L913 933.38L914.5 933.69L916 934.02L917.5 934.37L919 934.72L920.5 935.07L922 935.42L923.5 935.76L925 936.08L926.5 936.39L928 936.66L928.5 936.75" fill="none" stroke="#d8d8d8" stroke-width="3.0" opacity="0.6"/>
<rect x="911.8" y="835" width="15.9" height="15.2" fill="#444"/>
<path d="M914.2 840.2L920.6 846.4" stroke="#fff" stroke-width="1.7" fill="none"/>
<circle cx="914.2" cy="840.2" r="2.1" fill="#fff"/><circle cx="920.6" cy="846.4" r="2.1" fill="#fff"/><circle cx="926.6" cy="840.2" r="1.9" fill="#fff"/>
</g>
</g>
</svg>
</body>
</html>
